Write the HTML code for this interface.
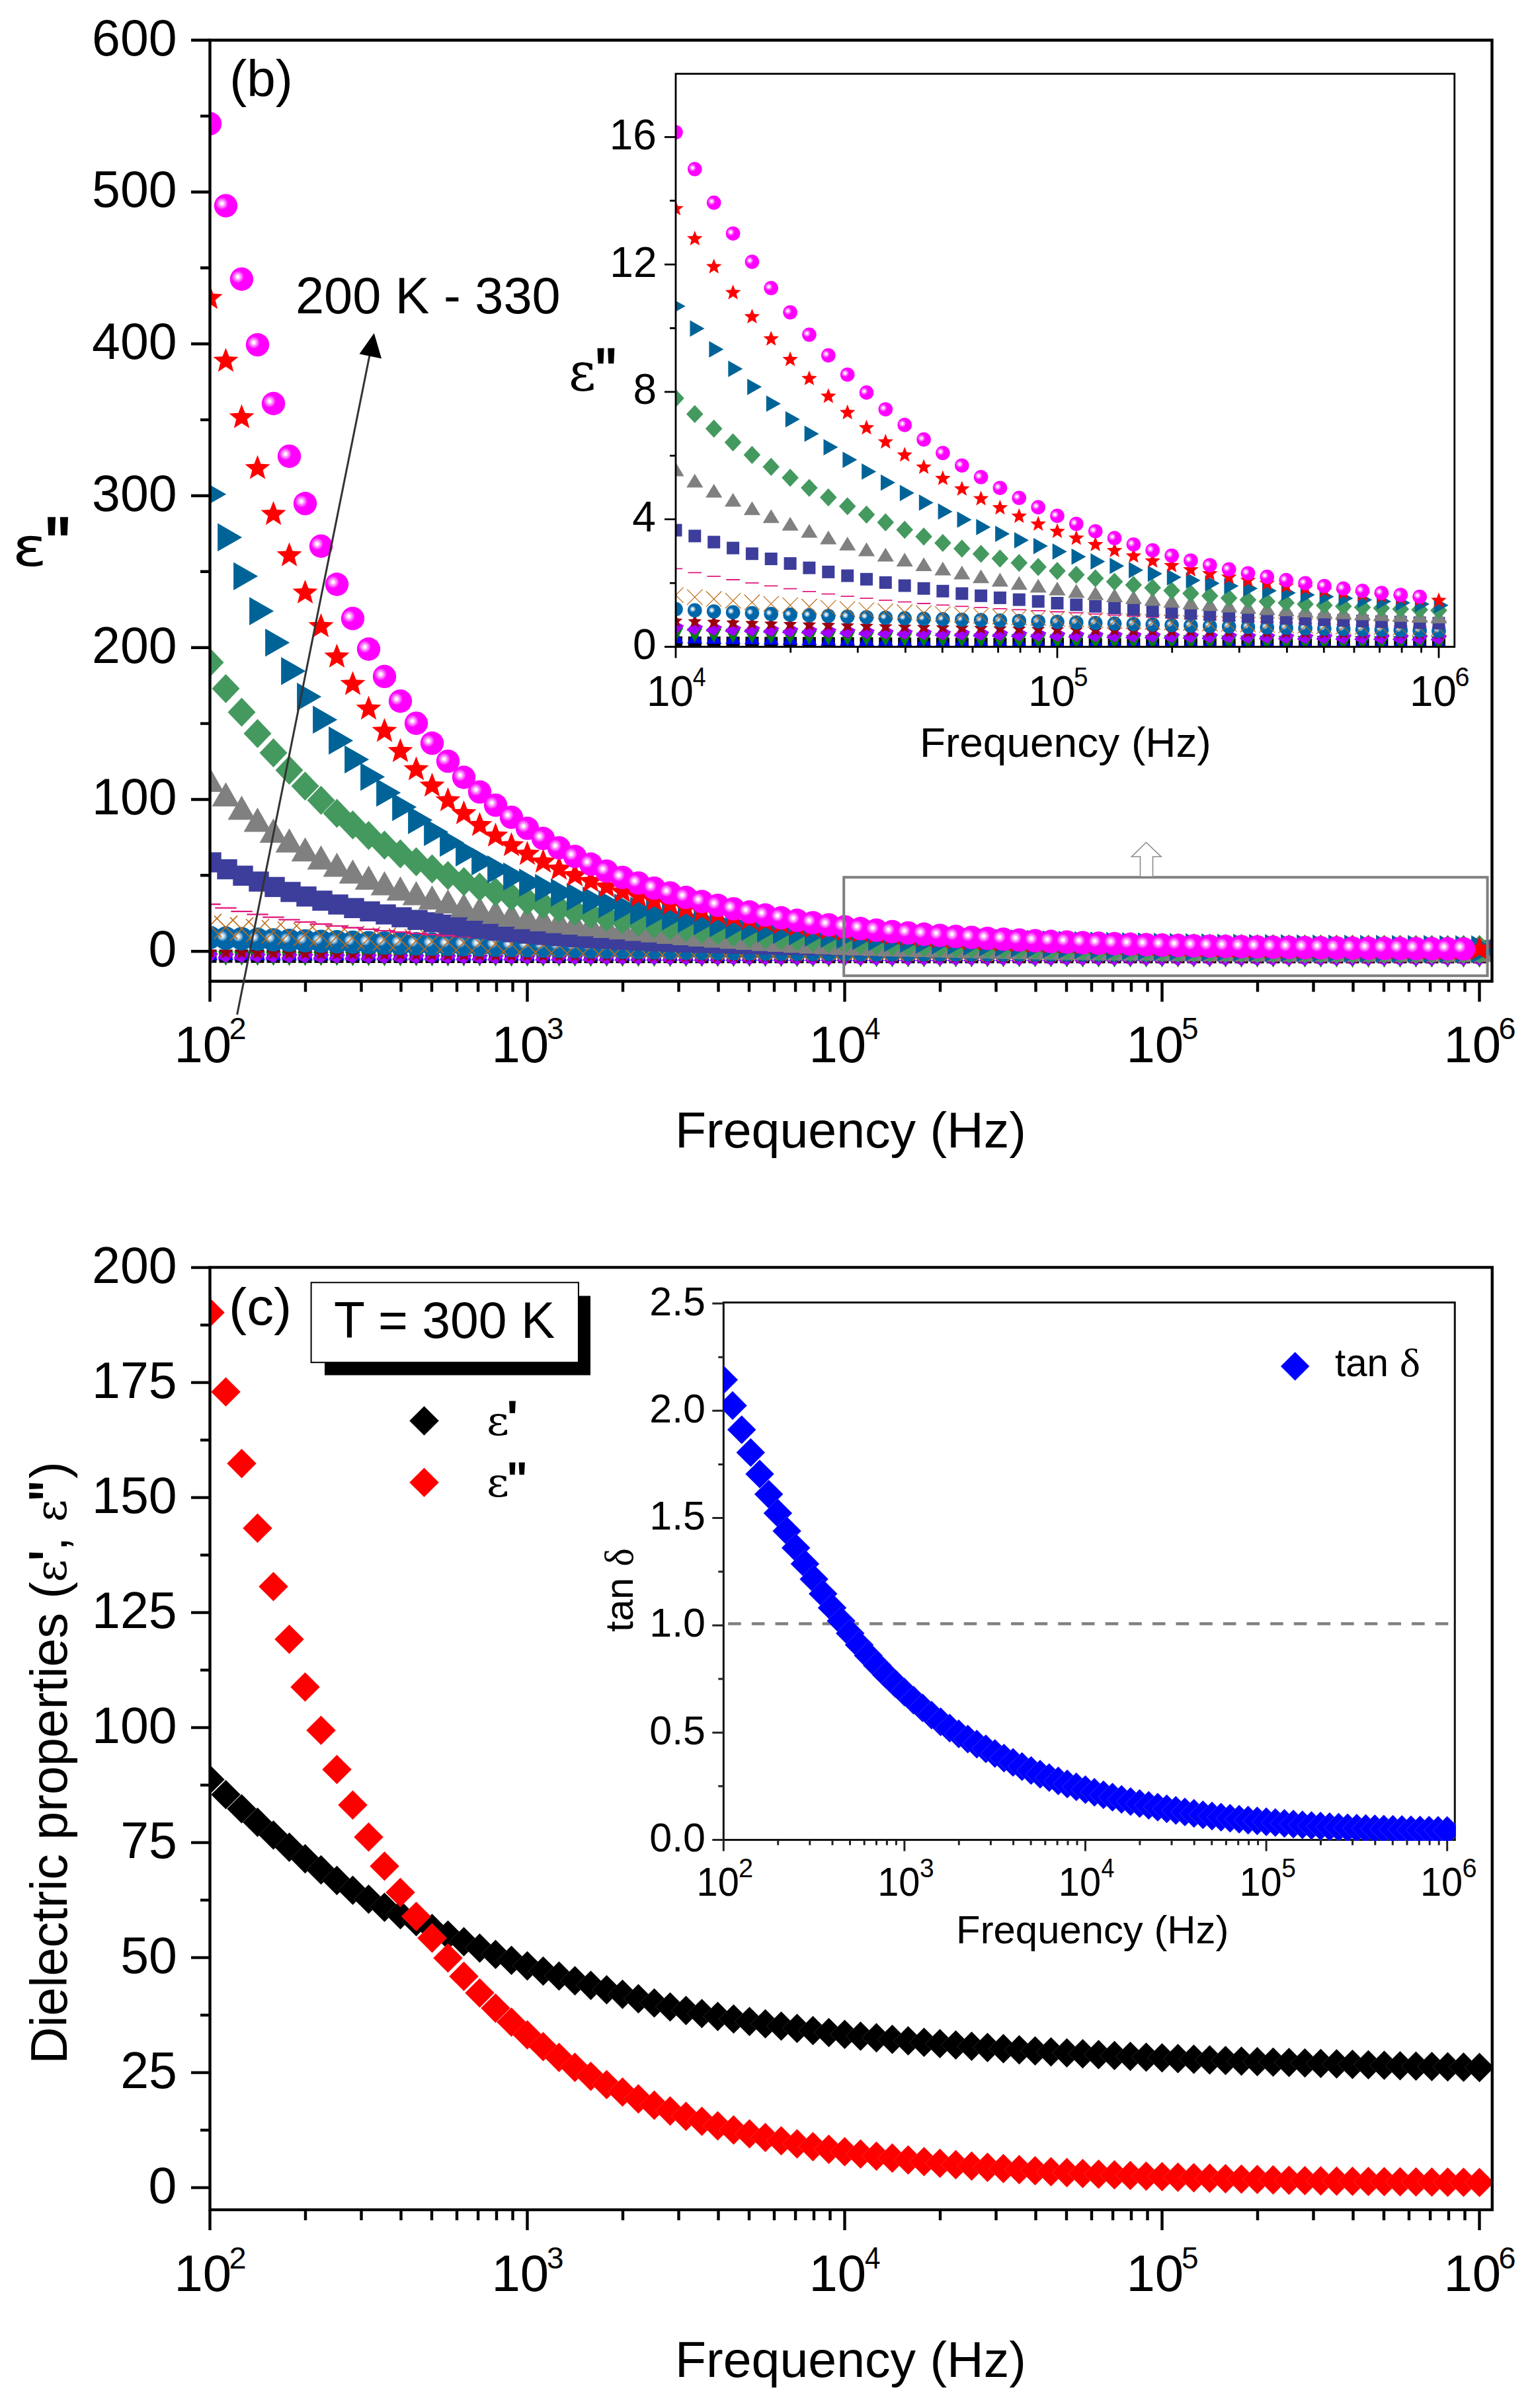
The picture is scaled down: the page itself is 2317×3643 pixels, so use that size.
<!DOCTYPE html>
<html lang="en"><head><meta charset="utf-8"><title>Dielectric properties: ε" vs frequency (b), T = 300 K (c)</title>
<style>html,body{margin:0;padding:0;background:#fff}svg{display:block}</style></head><body>
<svg width="2317" height="3643" viewBox="0 0 2317 3643">
<rect width="2317" height="3643" fill="#fff"/>
<defs>
<radialGradient id="gM" cx="0.335" cy="0.405" r="0.27"><stop offset="0" stop-color="#fff"/><stop offset="0.16" stop-color="#fff"/><stop offset="0.38" stop-color="#ffb4ff"/><stop offset="0.7" stop-color="#ff58ff"/><stop offset="1" stop-color="#f0f"/></radialGradient>
<radialGradient id="gB" cx="0.35" cy="0.41" r="0.23"><stop offset="0" stop-color="#fff"/><stop offset="0.18" stop-color="#eaf2f8"/><stop offset="0.5" stop-color="#a5c6e0"/><stop offset="0.8" stop-color="#4a8fc1"/><stop offset="1" stop-color="#0066aa"/></radialGradient>
<circle id="mag" r="17.7" fill="url(#gM)"/>
<polygon id="red" points="0.00,-20.00 5.05,-6.96 19.02,-6.18 8.18,2.66 11.76,16.18 0.00,8.60 -11.76,16.18 -8.18,2.66 -19.02,-6.18 -5.05,-6.96" fill="#f00"/>
<polygon id="btri" points="-12.4,-21.3 -12.4,21.3 24.7,0" fill="#006398"/>
<polygon id="gdia" points="0,-22 21,0 0,22 -21,0" fill="#44995f"/>
<polygon id="gray" points="0,-18.3 -20.9,18.3 20.9,18.3" fill="#808080"/>
<rect id="ind" x="-15.2" y="-15.2" width="30.4" height="30.4" fill="#3d3d9c"/>
<path id="pink" d="M-16.2,0H16.2" stroke="#e0187c" stroke-width="2.3" fill="none"/>
<path id="ora" d="M-17.5,-17.5L17.5,17.5M-17.5,17.5L17.5,-17.5" stroke="#bd6a17" stroke-width="1.6" fill="none"/>
<circle id="sph" r="17.7" fill="url(#gB)"/>
<circle id="mags" r="10.8" fill="url(#gM)"/>
<polygon id="reds" points="0.00,-12.40 3.13,-4.31 11.79,-3.83 5.07,1.65 7.29,10.03 0.00,5.33 -7.29,10.03 -5.07,1.65 -11.79,-3.83 -3.13,-4.31" fill="#f00"/>
<polygon id="btris" points="-7.3,-12.4 -7.3,12.4 14.7,0" fill="#006398"/>
<polygon id="gdias" points="0,-13.7 12.8,0 0,13.7 -12.8,0" fill="#44995f"/>
<polygon id="grays" points="0,-10.4 -12.6,10.4 12.6,10.4" fill="#808080"/>
<rect id="inds" x="-9.5" y="-9.5" width="19" height="19" fill="#3d3d9c"/>
<path id="pinks" d="M-10.2,0H10.2" stroke="#e0187c" stroke-width="1.8" fill="none"/>
<path id="oras" d="M-11.7,-11.7L11.7,11.7M-11.7,11.7L11.7,-11.7" stroke="#bd6a17" stroke-width="1.2" fill="none"/>
<circle id="sphs" r="10.8" fill="url(#gB)"/>
<polygon id="dred" points="0.00,-10.80 2.94,-4.05 10.27,-3.34 4.76,1.55 6.35,8.74 0.00,5.00 -6.35,8.74 -4.76,1.55 -10.27,-3.34 -2.94,-4.05" fill="#9c0010"/>
<polygon id="pur" points="-12.5,3 -1,-10.5 12.5,-3 1,10.5" fill="#a000ff"/>
<polygon id="dgrn" points="-11.5,-7.2 11.5,-7.2 0,14.4" fill="#008000"/>
<polygon id="blue" points="0,-14.4 -11.5,7.2 11.5,7.2" fill="#00f"/>
<rect id="blk" x="-10" y="-10" width="20" height="20" fill="#000"/>
<polygon id="dK" points="0,-22.3 22.3,0 0,22.3 -22.3,0" fill="#000" stroke="#fff" stroke-width="0.15"/>
<polygon id="dR" points="0,-22.3 22.3,0 0,22.3 -22.3,0" fill="#f00" stroke="#fff" stroke-width="0.15"/>
<polygon id="dB" points="0,-21.8 21.8,0 0,21.8 -21.8,0" fill="#00f" stroke="#fff" stroke-width="0.18"/>
<clipPath id="cB"><rect x="317.5" y="60.7" width="1939" height="1423.8"/></clipPath>
<clipPath id="cBi"><rect x="1022" y="111.7" width="1177.8" height="866.8"/></clipPath>
<clipPath id="cC"><rect x="317.5" y="1917.4" width="1939.3" height="1425.7"/></clipPath>
<clipPath id="cCi"><rect x="1094.3" y="1970.5" width="1107.5" height="814.5"/></clipPath>
</defs>
<g clip-path="url(#cB)">
<use href="#blk" x="317.5" y="1446.6"/>
<use href="#blk" x="341.5" y="1446.6"/>
<use href="#blk" x="365.5" y="1446.6"/>
<use href="#blk" x="389.5" y="1446.7"/>
<use href="#blk" x="413.5" y="1446.7"/>
<use href="#blk" x="437.5" y="1446.7"/>
<use href="#blk" x="461.5" y="1446.8"/>
<use href="#blk" x="485.5" y="1446.8"/>
<use href="#blk" x="509.5" y="1446.8"/>
<use href="#blk" x="533.5" y="1446.8"/>
<use href="#blk" x="557.5" y="1446.9"/>
<use href="#blk" x="581.5" y="1446.9"/>
<use href="#blk" x="605.5" y="1446.9"/>
<use href="#blk" x="629.5" y="1446.9"/>
<use href="#blk" x="653.5" y="1446.9"/>
<use href="#blk" x="677.5" y="1447"/>
<use href="#blk" x="701.5" y="1447"/>
<use href="#blk" x="725.5" y="1447"/>
<use href="#blk" x="749.5" y="1447"/>
<use href="#blk" x="773.5" y="1447"/>
<use href="#blk" x="797.5" y="1447"/>
<use href="#blk" x="821.5" y="1447.1"/>
<use href="#blk" x="845.5" y="1447.1"/>
<use href="#blk" x="869.5" y="1447.1"/>
<use href="#blk" x="893.5" y="1447.1"/>
<use href="#blk" x="917.5" y="1447.1"/>
<use href="#blk" x="941.5" y="1447.1"/>
<use href="#blk" x="965.5" y="1447.1"/>
<use href="#blk" x="989.5" y="1447.1"/>
<use href="#blk" x="1013.5" y="1447.1"/>
<use href="#blk" x="1037.5" y="1447.1"/>
<use href="#blk" x="1061.5" y="1447.2"/>
<use href="#blk" x="1085.5" y="1447.2"/>
<use href="#blk" x="1109.5" y="1447.2"/>
<use href="#blk" x="1133.5" y="1447.2"/>
<use href="#blk" x="1157.5" y="1447.2"/>
<use href="#blk" x="1181.5" y="1447.2"/>
<use href="#blk" x="1205.5" y="1447.2"/>
<use href="#blk" x="1229.5" y="1447.2"/>
<use href="#blk" x="1253.5" y="1447.2"/>
<use href="#blk" x="1277.5" y="1447.2"/>
<use href="#blk" x="1301.5" y="1447.2"/>
<use href="#blk" x="1325.5" y="1447.2"/>
<use href="#blk" x="1349.5" y="1447.2"/>
<use href="#blk" x="1373.5" y="1447.3"/>
<use href="#blk" x="1397.5" y="1447.3"/>
<use href="#blk" x="1421.5" y="1447.3"/>
<use href="#blk" x="1445.5" y="1447.3"/>
<use href="#blk" x="1469.5" y="1447.3"/>
<use href="#blk" x="1493.5" y="1447.3"/>
<use href="#blk" x="1517.5" y="1447.3"/>
<use href="#blk" x="1541.5" y="1447.3"/>
<use href="#blk" x="1565.5" y="1447.3"/>
<use href="#blk" x="1589.5" y="1447.3"/>
<use href="#blk" x="1613.5" y="1447.3"/>
<use href="#blk" x="1637.5" y="1447.3"/>
<use href="#blk" x="1661.5" y="1447.3"/>
<use href="#blk" x="1685.5" y="1447.3"/>
<use href="#blk" x="1709.5" y="1447.3"/>
<use href="#blk" x="1733.5" y="1447.3"/>
<use href="#blk" x="1757.5" y="1447.3"/>
<use href="#blk" x="1781.5" y="1447.3"/>
<use href="#blk" x="1805.5" y="1447.3"/>
<use href="#blk" x="1829.5" y="1447.3"/>
<use href="#blk" x="1853.5" y="1447.4"/>
<use href="#blk" x="1877.5" y="1447.4"/>
<use href="#blk" x="1901.5" y="1447.4"/>
<use href="#blk" x="1925.5" y="1447.4"/>
<use href="#blk" x="1949.5" y="1447.4"/>
<use href="#blk" x="1973.5" y="1447.4"/>
<use href="#blk" x="1997.5" y="1447.4"/>
<use href="#blk" x="2021.5" y="1447.4"/>
<use href="#blk" x="2045.5" y="1447.4"/>
<use href="#blk" x="2069.5" y="1447.4"/>
<use href="#blk" x="2093.5" y="1447.4"/>
<use href="#blk" x="2117.5" y="1447.4"/>
<use href="#blk" x="2141.5" y="1447.4"/>
<use href="#blk" x="2165.5" y="1447.4"/>
<use href="#blk" x="2189.5" y="1447.4"/>
<use href="#blk" x="2213.5" y="1447.4"/>
<use href="#blk" x="2237.5" y="1447.4"/>
<use href="#blue" x="317.5" y="1445.4"/>
<use href="#blue" x="341.5" y="1445.4"/>
<use href="#blue" x="365.5" y="1445.5"/>
<use href="#blue" x="389.5" y="1445.5"/>
<use href="#blue" x="413.5" y="1445.6"/>
<use href="#blue" x="437.5" y="1445.6"/>
<use href="#blue" x="461.5" y="1445.7"/>
<use href="#blue" x="485.5" y="1445.7"/>
<use href="#blue" x="509.5" y="1445.7"/>
<use href="#blue" x="533.5" y="1445.8"/>
<use href="#blue" x="557.5" y="1445.8"/>
<use href="#blue" x="581.5" y="1445.9"/>
<use href="#blue" x="605.5" y="1445.9"/>
<use href="#blue" x="629.5" y="1445.9"/>
<use href="#blue" x="653.5" y="1446"/>
<use href="#blue" x="677.5" y="1446"/>
<use href="#blue" x="701.5" y="1446"/>
<use href="#blue" x="725.5" y="1446.1"/>
<use href="#blue" x="749.5" y="1446.1"/>
<use href="#blue" x="773.5" y="1446.1"/>
<use href="#blue" x="797.5" y="1446.2"/>
<use href="#blue" x="821.5" y="1446.2"/>
<use href="#blue" x="845.5" y="1446.2"/>
<use href="#blue" x="869.5" y="1446.2"/>
<use href="#blue" x="893.5" y="1446.3"/>
<use href="#blue" x="917.5" y="1446.3"/>
<use href="#blue" x="941.5" y="1446.3"/>
<use href="#blue" x="965.5" y="1446.3"/>
<use href="#blue" x="989.5" y="1446.4"/>
<use href="#blue" x="1013.5" y="1446.4"/>
<use href="#blue" x="1037.5" y="1446.4"/>
<use href="#blue" x="1061.5" y="1446.4"/>
<use href="#blue" x="1085.5" y="1446.5"/>
<use href="#blue" x="1109.5" y="1446.5"/>
<use href="#blue" x="1133.5" y="1446.5"/>
<use href="#blue" x="1157.5" y="1446.5"/>
<use href="#blue" x="1181.5" y="1446.5"/>
<use href="#blue" x="1205.5" y="1446.5"/>
<use href="#blue" x="1229.5" y="1446.6"/>
<use href="#blue" x="1253.5" y="1446.6"/>
<use href="#blue" x="1277.5" y="1446.6"/>
<use href="#blue" x="1301.5" y="1446.6"/>
<use href="#blue" x="1325.5" y="1446.6"/>
<use href="#blue" x="1349.5" y="1446.7"/>
<use href="#blue" x="1373.5" y="1446.7"/>
<use href="#blue" x="1397.5" y="1446.7"/>
<use href="#blue" x="1421.5" y="1446.7"/>
<use href="#blue" x="1445.5" y="1446.7"/>
<use href="#blue" x="1469.5" y="1446.8"/>
<use href="#blue" x="1493.5" y="1446.8"/>
<use href="#blue" x="1517.5" y="1446.8"/>
<use href="#blue" x="1541.5" y="1446.8"/>
<use href="#blue" x="1565.5" y="1446.8"/>
<use href="#blue" x="1589.5" y="1446.8"/>
<use href="#blue" x="1613.5" y="1446.8"/>
<use href="#blue" x="1637.5" y="1446.9"/>
<use href="#blue" x="1661.5" y="1446.9"/>
<use href="#blue" x="1685.5" y="1446.9"/>
<use href="#blue" x="1709.5" y="1446.9"/>
<use href="#blue" x="1733.5" y="1446.9"/>
<use href="#blue" x="1757.5" y="1446.9"/>
<use href="#blue" x="1781.5" y="1446.9"/>
<use href="#blue" x="1805.5" y="1446.9"/>
<use href="#blue" x="1829.5" y="1446.9"/>
<use href="#blue" x="1853.5" y="1446.9"/>
<use href="#blue" x="1877.5" y="1446.9"/>
<use href="#blue" x="1901.5" y="1446.9"/>
<use href="#blue" x="1925.5" y="1446.9"/>
<use href="#blue" x="1949.5" y="1446.9"/>
<use href="#blue" x="1973.5" y="1446.9"/>
<use href="#blue" x="1997.5" y="1446.9"/>
<use href="#blue" x="2021.5" y="1447"/>
<use href="#blue" x="2045.5" y="1447"/>
<use href="#blue" x="2069.5" y="1447"/>
<use href="#blue" x="2093.5" y="1447"/>
<use href="#blue" x="2117.5" y="1447"/>
<use href="#blue" x="2141.5" y="1447"/>
<use href="#blue" x="2165.5" y="1447"/>
<use href="#blue" x="2189.5" y="1447"/>
<use href="#blue" x="2213.5" y="1447"/>
<use href="#blue" x="2237.5" y="1447"/>
<use href="#dgrn" x="317.5" y="1446.5"/>
<use href="#dgrn" x="341.5" y="1446.6"/>
<use href="#dgrn" x="365.5" y="1446.7"/>
<use href="#dgrn" x="389.5" y="1446.8"/>
<use href="#dgrn" x="413.5" y="1446.9"/>
<use href="#dgrn" x="437.5" y="1447"/>
<use href="#dgrn" x="461.5" y="1447.1"/>
<use href="#dgrn" x="485.5" y="1447.2"/>
<use href="#dgrn" x="509.5" y="1447.2"/>
<use href="#dgrn" x="533.5" y="1447.3"/>
<use href="#dgrn" x="557.5" y="1447.4"/>
<use href="#dgrn" x="581.5" y="1447.5"/>
<use href="#dgrn" x="605.5" y="1447.6"/>
<use href="#dgrn" x="629.5" y="1447.6"/>
<use href="#dgrn" x="653.5" y="1447.7"/>
<use href="#dgrn" x="677.5" y="1447.8"/>
<use href="#dgrn" x="701.5" y="1447.8"/>
<use href="#dgrn" x="725.5" y="1447.9"/>
<use href="#dgrn" x="749.5" y="1447.9"/>
<use href="#dgrn" x="773.5" y="1448"/>
<use href="#dgrn" x="797.5" y="1448.1"/>
<use href="#dgrn" x="821.5" y="1448.1"/>
<use href="#dgrn" x="845.5" y="1448.2"/>
<use href="#dgrn" x="869.5" y="1448.2"/>
<use href="#dgrn" x="893.5" y="1448.3"/>
<use href="#dgrn" x="917.5" y="1448.3"/>
<use href="#dgrn" x="941.5" y="1448.4"/>
<use href="#dgrn" x="965.5" y="1448.4"/>
<use href="#dgrn" x="989.5" y="1448.4"/>
<use href="#dgrn" x="1013.5" y="1448.5"/>
<use href="#dgrn" x="1037.5" y="1448.5"/>
<use href="#dgrn" x="1061.5" y="1448.6"/>
<use href="#dgrn" x="1085.5" y="1448.6"/>
<use href="#dgrn" x="1109.5" y="1448.6"/>
<use href="#dgrn" x="1133.5" y="1448.7"/>
<use href="#dgrn" x="1157.5" y="1448.7"/>
<use href="#dgrn" x="1181.5" y="1448.7"/>
<use href="#dgrn" x="1205.5" y="1448.8"/>
<use href="#dgrn" x="1229.5" y="1448.8"/>
<use href="#dgrn" x="1253.5" y="1448.8"/>
<use href="#dgrn" x="1277.5" y="1448.9"/>
<use href="#dgrn" x="1301.5" y="1448.9"/>
<use href="#dgrn" x="1325.5" y="1448.9"/>
<use href="#dgrn" x="1349.5" y="1449"/>
<use href="#dgrn" x="1373.5" y="1449"/>
<use href="#dgrn" x="1397.5" y="1449"/>
<use href="#dgrn" x="1421.5" y="1449.1"/>
<use href="#dgrn" x="1445.5" y="1449.1"/>
<use href="#dgrn" x="1469.5" y="1449.1"/>
<use href="#dgrn" x="1493.5" y="1449.1"/>
<use href="#dgrn" x="1517.5" y="1449.2"/>
<use href="#dgrn" x="1541.5" y="1449.2"/>
<use href="#dgrn" x="1565.5" y="1449.2"/>
<use href="#dgrn" x="1589.5" y="1449.2"/>
<use href="#dgrn" x="1613.5" y="1449.3"/>
<use href="#dgrn" x="1637.5" y="1449.3"/>
<use href="#dgrn" x="1661.5" y="1449.3"/>
<use href="#dgrn" x="1685.5" y="1449.3"/>
<use href="#dgrn" x="1709.5" y="1449.3"/>
<use href="#dgrn" x="1733.5" y="1449.3"/>
<use href="#dgrn" x="1757.5" y="1449.3"/>
<use href="#dgrn" x="1781.5" y="1449.4"/>
<use href="#dgrn" x="1805.5" y="1449.4"/>
<use href="#dgrn" x="1829.5" y="1449.4"/>
<use href="#dgrn" x="1853.5" y="1449.4"/>
<use href="#dgrn" x="1877.5" y="1449.4"/>
<use href="#dgrn" x="1901.5" y="1449.4"/>
<use href="#dgrn" x="1925.5" y="1449.4"/>
<use href="#dgrn" x="1949.5" y="1449.4"/>
<use href="#dgrn" x="1973.5" y="1449.4"/>
<use href="#dgrn" x="1997.5" y="1449.4"/>
<use href="#dgrn" x="2021.5" y="1449.4"/>
<use href="#dgrn" x="2045.5" y="1449.5"/>
<use href="#dgrn" x="2069.5" y="1449.5"/>
<use href="#dgrn" x="2093.5" y="1449.5"/>
<use href="#dgrn" x="2117.5" y="1449.5"/>
<use href="#dgrn" x="2141.5" y="1449.5"/>
<use href="#dgrn" x="2165.5" y="1449.5"/>
<use href="#dgrn" x="2189.5" y="1449.5"/>
<use href="#dgrn" x="2213.5" y="1449.5"/>
<use href="#dgrn" x="2237.5" y="1449.5"/>
<use href="#pur" x="317.5" y="1446"/>
<use href="#pur" x="341.5" y="1446.2"/>
<use href="#pur" x="365.5" y="1446.4"/>
<use href="#pur" x="389.5" y="1446.6"/>
<use href="#pur" x="413.5" y="1446.8"/>
<use href="#pur" x="437.5" y="1446.9"/>
<use href="#pur" x="461.5" y="1447.1"/>
<use href="#pur" x="485.5" y="1447.3"/>
<use href="#pur" x="509.5" y="1447.4"/>
<use href="#pur" x="533.5" y="1447.6"/>
<use href="#pur" x="557.5" y="1447.7"/>
<use href="#pur" x="581.5" y="1447.9"/>
<use href="#pur" x="605.5" y="1448"/>
<use href="#pur" x="629.5" y="1448.2"/>
<use href="#pur" x="653.5" y="1448.3"/>
<use href="#pur" x="677.5" y="1448.4"/>
<use href="#pur" x="701.5" y="1448.5"/>
<use href="#pur" x="725.5" y="1448.6"/>
<use href="#pur" x="749.5" y="1448.7"/>
<use href="#pur" x="773.5" y="1448.8"/>
<use href="#pur" x="797.5" y="1448.9"/>
<use href="#pur" x="821.5" y="1449"/>
<use href="#pur" x="845.5" y="1449.1"/>
<use href="#pur" x="869.5" y="1449.2"/>
<use href="#pur" x="893.5" y="1449.3"/>
<use href="#pur" x="917.5" y="1449.4"/>
<use href="#pur" x="941.5" y="1449.5"/>
<use href="#pur" x="965.5" y="1449.6"/>
<use href="#pur" x="989.5" y="1449.6"/>
<use href="#pur" x="1013.5" y="1449.7"/>
<use href="#pur" x="1037.5" y="1449.8"/>
<use href="#pur" x="1061.5" y="1449.9"/>
<use href="#pur" x="1085.5" y="1449.9"/>
<use href="#pur" x="1109.5" y="1450"/>
<use href="#pur" x="1133.5" y="1450"/>
<use href="#pur" x="1157.5" y="1450.1"/>
<use href="#pur" x="1181.5" y="1450.1"/>
<use href="#pur" x="1205.5" y="1450.2"/>
<use href="#pur" x="1229.5" y="1450.2"/>
<use href="#pur" x="1253.5" y="1450.3"/>
<use href="#pur" x="1277.5" y="1450.3"/>
<use href="#pur" x="1301.5" y="1450.4"/>
<use href="#pur" x="1325.5" y="1450.4"/>
<use href="#pur" x="1349.5" y="1450.4"/>
<use href="#pur" x="1373.5" y="1450.5"/>
<use href="#pur" x="1397.5" y="1450.5"/>
<use href="#pur" x="1421.5" y="1450.5"/>
<use href="#pur" x="1445.5" y="1450.6"/>
<use href="#pur" x="1469.5" y="1450.6"/>
<use href="#pur" x="1493.5" y="1450.6"/>
<use href="#pur" x="1517.5" y="1450.6"/>
<use href="#pur" x="1541.5" y="1450.7"/>
<use href="#pur" x="1565.5" y="1450.7"/>
<use href="#pur" x="1589.5" y="1450.7"/>
<use href="#pur" x="1613.5" y="1450.7"/>
<use href="#pur" x="1637.5" y="1450.8"/>
<use href="#pur" x="1661.5" y="1450.8"/>
<use href="#pur" x="1685.5" y="1450.8"/>
<use href="#pur" x="1709.5" y="1450.8"/>
<use href="#pur" x="1733.5" y="1450.8"/>
<use href="#pur" x="1757.5" y="1450.8"/>
<use href="#pur" x="1781.5" y="1450.9"/>
<use href="#pur" x="1805.5" y="1450.9"/>
<use href="#pur" x="1829.5" y="1450.9"/>
<use href="#pur" x="1853.5" y="1450.9"/>
<use href="#pur" x="1877.5" y="1450.9"/>
<use href="#pur" x="1901.5" y="1450.9"/>
<use href="#pur" x="1925.5" y="1450.9"/>
<use href="#pur" x="1949.5" y="1451"/>
<use href="#pur" x="1973.5" y="1451"/>
<use href="#pur" x="1997.5" y="1451"/>
<use href="#pur" x="2021.5" y="1451"/>
<use href="#pur" x="2045.5" y="1451"/>
<use href="#pur" x="2069.5" y="1451"/>
<use href="#pur" x="2093.5" y="1451"/>
<use href="#pur" x="2117.5" y="1451"/>
<use href="#pur" x="2141.5" y="1451"/>
<use href="#pur" x="2165.5" y="1451"/>
<use href="#pur" x="2189.5" y="1451"/>
<use href="#pur" x="2213.5" y="1451.1"/>
<use href="#pur" x="2237.5" y="1451.1"/>
<use href="#dred" x="317.5" y="1440.5"/>
<use href="#dred" x="341.5" y="1440.9"/>
<use href="#dred" x="365.5" y="1441.2"/>
<use href="#dred" x="389.5" y="1441.5"/>
<use href="#dred" x="413.5" y="1441.9"/>
<use href="#dred" x="437.5" y="1442.2"/>
<use href="#dred" x="461.5" y="1442.5"/>
<use href="#dred" x="485.5" y="1442.8"/>
<use href="#dred" x="509.5" y="1443"/>
<use href="#dred" x="533.5" y="1443.3"/>
<use href="#dred" x="557.5" y="1443.5"/>
<use href="#dred" x="581.5" y="1443.8"/>
<use href="#dred" x="605.5" y="1444"/>
<use href="#dred" x="629.5" y="1444.2"/>
<use href="#dred" x="653.5" y="1444.4"/>
<use href="#dred" x="677.5" y="1444.7"/>
<use href="#dred" x="701.5" y="1444.8"/>
<use href="#dred" x="725.5" y="1445"/>
<use href="#dred" x="749.5" y="1445.2"/>
<use href="#dred" x="773.5" y="1445.4"/>
<use href="#dred" x="797.5" y="1445.6"/>
<use href="#dred" x="821.5" y="1445.7"/>
<use href="#dred" x="845.5" y="1445.9"/>
<use href="#dred" x="869.5" y="1446"/>
<use href="#dred" x="893.5" y="1446.2"/>
<use href="#dred" x="917.5" y="1446.4"/>
<use href="#dred" x="941.5" y="1446.5"/>
<use href="#dred" x="965.5" y="1446.6"/>
<use href="#dred" x="989.5" y="1446.8"/>
<use href="#dred" x="1013.5" y="1446.9"/>
<use href="#dred" x="1037.5" y="1447"/>
<use href="#dred" x="1061.5" y="1447.1"/>
<use href="#dred" x="1085.5" y="1447.2"/>
<use href="#dred" x="1109.5" y="1447.3"/>
<use href="#dred" x="1133.5" y="1447.4"/>
<use href="#dred" x="1157.5" y="1447.5"/>
<use href="#dred" x="1181.5" y="1447.6"/>
<use href="#dred" x="1205.5" y="1447.7"/>
<use href="#dred" x="1229.5" y="1447.7"/>
<use href="#dred" x="1253.5" y="1447.8"/>
<use href="#dred" x="1277.5" y="1447.8"/>
<use href="#dred" x="1301.5" y="1447.9"/>
<use href="#dred" x="1325.5" y="1447.9"/>
<use href="#dred" x="1349.5" y="1448"/>
<use href="#dred" x="1373.5" y="1448"/>
<use href="#dred" x="1397.5" y="1448.1"/>
<use href="#dred" x="1421.5" y="1448.1"/>
<use href="#dred" x="1445.5" y="1448.1"/>
<use href="#dred" x="1469.5" y="1448.2"/>
<use href="#dred" x="1493.5" y="1448.2"/>
<use href="#dred" x="1517.5" y="1448.2"/>
<use href="#dred" x="1541.5" y="1448.2"/>
<use href="#dred" x="1565.5" y="1448.3"/>
<use href="#dred" x="1589.5" y="1448.3"/>
<use href="#dred" x="1613.5" y="1448.3"/>
<use href="#dred" x="1637.5" y="1448.3"/>
<use href="#dred" x="1661.5" y="1448.4"/>
<use href="#dred" x="1685.5" y="1448.4"/>
<use href="#dred" x="1709.5" y="1448.4"/>
<use href="#dred" x="1733.5" y="1448.4"/>
<use href="#dred" x="1757.5" y="1448.5"/>
<use href="#dred" x="1781.5" y="1448.5"/>
<use href="#dred" x="1805.5" y="1448.5"/>
<use href="#dred" x="1829.5" y="1448.5"/>
<use href="#dred" x="1853.5" y="1448.5"/>
<use href="#dred" x="1877.5" y="1448.6"/>
<use href="#dred" x="1901.5" y="1448.6"/>
<use href="#dred" x="1925.5" y="1448.6"/>
<use href="#dred" x="1949.5" y="1448.6"/>
<use href="#dred" x="1973.5" y="1448.6"/>
<use href="#dred" x="1997.5" y="1448.6"/>
<use href="#dred" x="2021.5" y="1448.7"/>
<use href="#dred" x="2045.5" y="1448.7"/>
<use href="#dred" x="2069.5" y="1448.7"/>
<use href="#dred" x="2093.5" y="1448.7"/>
<use href="#dred" x="2117.5" y="1448.7"/>
<use href="#dred" x="2141.5" y="1448.7"/>
<use href="#dred" x="2165.5" y="1448.7"/>
<use href="#dred" x="2189.5" y="1448.8"/>
<use href="#dred" x="2213.5" y="1448.8"/>
<use href="#dred" x="2237.5" y="1448.8"/>
<use href="#sph" x="317.5" y="1418.3"/>
<use href="#sph" x="341.5" y="1419.3"/>
<use href="#sph" x="365.5" y="1420.2"/>
<use href="#sph" x="389.5" y="1421"/>
<use href="#sph" x="413.5" y="1421.9"/>
<use href="#sph" x="437.5" y="1422.7"/>
<use href="#sph" x="461.5" y="1423.4"/>
<use href="#sph" x="485.5" y="1424.1"/>
<use href="#sph" x="509.5" y="1424.8"/>
<use href="#sph" x="533.5" y="1425.5"/>
<use href="#sph" x="557.5" y="1426.1"/>
<use href="#sph" x="581.5" y="1426.7"/>
<use href="#sph" x="605.5" y="1427.2"/>
<use href="#sph" x="629.5" y="1427.8"/>
<use href="#sph" x="653.5" y="1428.3"/>
<use href="#sph" x="677.5" y="1428.7"/>
<use href="#sph" x="701.5" y="1429.2"/>
<use href="#sph" x="725.5" y="1429.6"/>
<use href="#sph" x="749.5" y="1430.1"/>
<use href="#sph" x="773.5" y="1430.5"/>
<use href="#sph" x="797.5" y="1430.9"/>
<use href="#sph" x="821.5" y="1431.4"/>
<use href="#sph" x="845.5" y="1431.8"/>
<use href="#sph" x="869.5" y="1432.2"/>
<use href="#sph" x="893.5" y="1432.6"/>
<use href="#sph" x="917.5" y="1433"/>
<use href="#sph" x="941.5" y="1433.4"/>
<use href="#sph" x="965.5" y="1433.7"/>
<use href="#sph" x="989.5" y="1434"/>
<use href="#sph" x="1013.5" y="1434.3"/>
<use href="#sph" x="1037.5" y="1434.6"/>
<use href="#sph" x="1061.5" y="1434.9"/>
<use href="#sph" x="1085.5" y="1435.1"/>
<use href="#sph" x="1109.5" y="1435.3"/>
<use href="#sph" x="1133.5" y="1435.6"/>
<use href="#sph" x="1157.5" y="1435.8"/>
<use href="#sph" x="1181.5" y="1436"/>
<use href="#sph" x="1205.5" y="1436.1"/>
<use href="#sph" x="1229.5" y="1436.3"/>
<use href="#sph" x="1253.5" y="1436.4"/>
<use href="#sph" x="1277.5" y="1436.5"/>
<use href="#sph" x="1301.5" y="1436.6"/>
<use href="#sph" x="1325.5" y="1436.6"/>
<use href="#sph" x="1349.5" y="1436.7"/>
<use href="#sph" x="1373.5" y="1436.8"/>
<use href="#sph" x="1397.5" y="1436.8"/>
<use href="#sph" x="1421.5" y="1436.9"/>
<use href="#sph" x="1445.5" y="1436.9"/>
<use href="#sph" x="1469.5" y="1437"/>
<use href="#sph" x="1493.5" y="1437"/>
<use href="#sph" x="1517.5" y="1437.1"/>
<use href="#sph" x="1541.5" y="1437.1"/>
<use href="#sph" x="1565.5" y="1437.1"/>
<use href="#sph" x="1589.5" y="1437.2"/>
<use href="#sph" x="1613.5" y="1437.2"/>
<use href="#sph" x="1637.5" y="1437.2"/>
<use href="#sph" x="1661.5" y="1437.3"/>
<use href="#sph" x="1685.5" y="1437.3"/>
<use href="#sph" x="1709.5" y="1437.3"/>
<use href="#sph" x="1733.5" y="1437.4"/>
<use href="#sph" x="1757.5" y="1437.4"/>
<use href="#sph" x="1781.5" y="1437.4"/>
<use href="#sph" x="1805.5" y="1437.5"/>
<use href="#sph" x="1829.5" y="1437.5"/>
<use href="#sph" x="1853.5" y="1437.6"/>
<use href="#sph" x="1877.5" y="1437.6"/>
<use href="#sph" x="1901.5" y="1437.6"/>
<use href="#sph" x="1925.5" y="1437.7"/>
<use href="#sph" x="1949.5" y="1437.7"/>
<use href="#sph" x="1973.5" y="1437.7"/>
<use href="#sph" x="1997.5" y="1437.8"/>
<use href="#sph" x="2021.5" y="1437.8"/>
<use href="#sph" x="2045.5" y="1437.8"/>
<use href="#sph" x="2069.5" y="1437.9"/>
<use href="#sph" x="2093.5" y="1437.9"/>
<use href="#sph" x="2117.5" y="1437.9"/>
<use href="#sph" x="2141.5" y="1438"/>
<use href="#sph" x="2165.5" y="1438"/>
<use href="#sph" x="2189.5" y="1438"/>
<use href="#sph" x="2213.5" y="1438"/>
<use href="#sph" x="2237.5" y="1438.1"/>
<use href="#ora" x="317.5" y="1400.1"/>
<use href="#ora" x="341.5" y="1402.9"/>
<use href="#ora" x="365.5" y="1405.4"/>
<use href="#ora" x="389.5" y="1407.7"/>
<use href="#ora" x="413.5" y="1409.8"/>
<use href="#ora" x="437.5" y="1411.8"/>
<use href="#ora" x="461.5" y="1413.6"/>
<use href="#ora" x="485.5" y="1415.3"/>
<use href="#ora" x="509.5" y="1416.9"/>
<use href="#ora" x="533.5" y="1418.3"/>
<use href="#ora" x="557.5" y="1419.7"/>
<use href="#ora" x="581.5" y="1420.9"/>
<use href="#ora" x="605.5" y="1422.1"/>
<use href="#ora" x="629.5" y="1423.2"/>
<use href="#ora" x="653.5" y="1424.2"/>
<use href="#ora" x="677.5" y="1425.1"/>
<use href="#ora" x="701.5" y="1426"/>
<use href="#ora" x="725.5" y="1426.8"/>
<use href="#ora" x="749.5" y="1427.5"/>
<use href="#ora" x="773.5" y="1428.2"/>
<use href="#ora" x="797.5" y="1428.9"/>
<use href="#ora" x="821.5" y="1429.4"/>
<use href="#ora" x="845.5" y="1430"/>
<use href="#ora" x="869.5" y="1430.5"/>
<use href="#ora" x="893.5" y="1431"/>
<use href="#ora" x="917.5" y="1431.4"/>
<use href="#ora" x="941.5" y="1431.8"/>
<use href="#ora" x="965.5" y="1432.2"/>
<use href="#ora" x="989.5" y="1432.6"/>
<use href="#ora" x="1013.5" y="1432.9"/>
<use href="#ora" x="1037.5" y="1433.2"/>
<use href="#ora" x="1061.5" y="1433.5"/>
<use href="#ora" x="1085.5" y="1433.8"/>
<use href="#ora" x="1109.5" y="1434.1"/>
<use href="#ora" x="1133.5" y="1434.3"/>
<use href="#ora" x="1157.5" y="1434.5"/>
<use href="#ora" x="1181.5" y="1434.8"/>
<use href="#ora" x="1205.5" y="1435"/>
<use href="#ora" x="1229.5" y="1435.2"/>
<use href="#ora" x="1253.5" y="1435.3"/>
<use href="#ora" x="1277.5" y="1435.5"/>
<use href="#ora" x="1301.5" y="1435.6"/>
<use href="#ora" x="1325.5" y="1435.8"/>
<use href="#ora" x="1349.5" y="1435.9"/>
<use href="#ora" x="1373.5" y="1436"/>
<use href="#ora" x="1397.5" y="1436.1"/>
<use href="#ora" x="1421.5" y="1436.2"/>
<use href="#ora" x="1445.5" y="1436.3"/>
<use href="#ora" x="1469.5" y="1436.4"/>
<use href="#ora" x="1493.5" y="1436.5"/>
<use href="#ora" x="1517.5" y="1436.6"/>
<use href="#ora" x="1541.5" y="1436.6"/>
<use href="#ora" x="1565.5" y="1436.7"/>
<use href="#ora" x="1589.5" y="1436.8"/>
<use href="#ora" x="1613.5" y="1436.8"/>
<use href="#ora" x="1637.5" y="1436.9"/>
<use href="#ora" x="1661.5" y="1437"/>
<use href="#ora" x="1685.5" y="1437"/>
<use href="#ora" x="1709.5" y="1437.1"/>
<use href="#ora" x="1733.5" y="1437.1"/>
<use href="#ora" x="1757.5" y="1437.2"/>
<use href="#ora" x="1781.5" y="1437.2"/>
<use href="#ora" x="1805.5" y="1437.3"/>
<use href="#ora" x="1829.5" y="1437.3"/>
<use href="#ora" x="1853.5" y="1437.4"/>
<use href="#ora" x="1877.5" y="1437.4"/>
<use href="#ora" x="1901.5" y="1437.4"/>
<use href="#ora" x="1925.5" y="1437.5"/>
<use href="#ora" x="1949.5" y="1437.5"/>
<use href="#ora" x="1973.5" y="1437.6"/>
<use href="#ora" x="1997.5" y="1437.6"/>
<use href="#ora" x="2021.5" y="1437.6"/>
<use href="#ora" x="2045.5" y="1437.7"/>
<use href="#ora" x="2069.5" y="1437.7"/>
<use href="#ora" x="2093.5" y="1437.7"/>
<use href="#ora" x="2117.5" y="1437.7"/>
<use href="#ora" x="2141.5" y="1437.8"/>
<use href="#ora" x="2165.5" y="1437.8"/>
<use href="#ora" x="2189.5" y="1437.8"/>
<use href="#ora" x="2213.5" y="1437.8"/>
<use href="#ora" x="2237.5" y="1437.9"/>
<use href="#pink" x="317.5" y="1368"/>
<use href="#pink" x="341.5" y="1373.6"/>
<use href="#pink" x="365.5" y="1378.8"/>
<use href="#pink" x="389.5" y="1383.4"/>
<use href="#pink" x="413.5" y="1387.6"/>
<use href="#pink" x="437.5" y="1391.4"/>
<use href="#pink" x="461.5" y="1394.9"/>
<use href="#pink" x="485.5" y="1398"/>
<use href="#pink" x="509.5" y="1400.8"/>
<use href="#pink" x="533.5" y="1403.5"/>
<use href="#pink" x="557.5" y="1405.9"/>
<use href="#pink" x="581.5" y="1408.1"/>
<use href="#pink" x="605.5" y="1410.2"/>
<use href="#pink" x="629.5" y="1412.1"/>
<use href="#pink" x="653.5" y="1413.9"/>
<use href="#pink" x="677.5" y="1415.5"/>
<use href="#pink" x="701.5" y="1417"/>
<use href="#pink" x="725.5" y="1418.4"/>
<use href="#pink" x="749.5" y="1419.7"/>
<use href="#pink" x="773.5" y="1420.9"/>
<use href="#pink" x="797.5" y="1422"/>
<use href="#pink" x="821.5" y="1423"/>
<use href="#pink" x="845.5" y="1423.9"/>
<use href="#pink" x="869.5" y="1424.8"/>
<use href="#pink" x="893.5" y="1425.7"/>
<use href="#pink" x="917.5" y="1426.4"/>
<use href="#pink" x="941.5" y="1427.1"/>
<use href="#pink" x="965.5" y="1427.8"/>
<use href="#pink" x="989.5" y="1428.4"/>
<use href="#pink" x="1013.5" y="1429"/>
<use href="#pink" x="1037.5" y="1429.6"/>
<use href="#pink" x="1061.5" y="1430.1"/>
<use href="#pink" x="1085.5" y="1430.6"/>
<use href="#pink" x="1109.5" y="1431.1"/>
<use href="#pink" x="1133.5" y="1431.5"/>
<use href="#pink" x="1157.5" y="1431.9"/>
<use href="#pink" x="1181.5" y="1432.3"/>
<use href="#pink" x="1205.5" y="1432.6"/>
<use href="#pink" x="1229.5" y="1433"/>
<use href="#pink" x="1253.5" y="1433.3"/>
<use href="#pink" x="1277.5" y="1433.6"/>
<use href="#pink" x="1301.5" y="1433.9"/>
<use href="#pink" x="1325.5" y="1434.1"/>
<use href="#pink" x="1349.5" y="1434.4"/>
<use href="#pink" x="1373.5" y="1434.6"/>
<use href="#pink" x="1397.5" y="1434.8"/>
<use href="#pink" x="1421.5" y="1435"/>
<use href="#pink" x="1445.5" y="1435.2"/>
<use href="#pink" x="1469.5" y="1435.4"/>
<use href="#pink" x="1493.5" y="1435.6"/>
<use href="#pink" x="1517.5" y="1435.7"/>
<use href="#pink" x="1541.5" y="1435.8"/>
<use href="#pink" x="1565.5" y="1436"/>
<use href="#pink" x="1589.5" y="1436.1"/>
<use href="#pink" x="1613.5" y="1436.2"/>
<use href="#pink" x="1637.5" y="1436.3"/>
<use href="#pink" x="1661.5" y="1436.4"/>
<use href="#pink" x="1685.5" y="1436.4"/>
<use href="#pink" x="1709.5" y="1436.5"/>
<use href="#pink" x="1733.5" y="1436.6"/>
<use href="#pink" x="1757.5" y="1436.7"/>
<use href="#pink" x="1781.5" y="1436.8"/>
<use href="#pink" x="1805.5" y="1436.8"/>
<use href="#pink" x="1829.5" y="1436.9"/>
<use href="#pink" x="1853.5" y="1437"/>
<use href="#pink" x="1877.5" y="1437.1"/>
<use href="#pink" x="1901.5" y="1437.1"/>
<use href="#pink" x="1925.5" y="1437.2"/>
<use href="#pink" x="1949.5" y="1437.3"/>
<use href="#pink" x="1973.5" y="1437.3"/>
<use href="#pink" x="1997.5" y="1437.4"/>
<use href="#pink" x="2021.5" y="1437.4"/>
<use href="#pink" x="2045.5" y="1437.5"/>
<use href="#pink" x="2069.5" y="1437.5"/>
<use href="#pink" x="2093.5" y="1437.5"/>
<use href="#pink" x="2117.5" y="1437.6"/>
<use href="#pink" x="2141.5" y="1437.6"/>
<use href="#pink" x="2165.5" y="1437.7"/>
<use href="#pink" x="2189.5" y="1437.7"/>
<use href="#pink" x="2213.5" y="1437.7"/>
<use href="#pink" x="2237.5" y="1437.8"/>
<use href="#ind" x="319.5" y="1304.6"/>
<use href="#ind" x="343.5" y="1315.1"/>
<use href="#ind" x="367.5" y="1324.8"/>
<use href="#ind" x="391.5" y="1333.7"/>
<use href="#ind" x="415.5" y="1341.9"/>
<use href="#ind" x="439.5" y="1349.4"/>
<use href="#ind" x="463.5" y="1356.3"/>
<use href="#ind" x="487.5" y="1362.6"/>
<use href="#ind" x="511.5" y="1368.4"/>
<use href="#ind" x="535.5" y="1373.8"/>
<use href="#ind" x="559.5" y="1378.8"/>
<use href="#ind" x="583.5" y="1383.4"/>
<use href="#ind" x="607.5" y="1387.7"/>
<use href="#ind" x="631.5" y="1391.7"/>
<use href="#ind" x="655.5" y="1395.3"/>
<use href="#ind" x="679.5" y="1398.8"/>
<use href="#ind" x="703.5" y="1402"/>
<use href="#ind" x="727.5" y="1405"/>
<use href="#ind" x="751.5" y="1407.8"/>
<use href="#ind" x="775.5" y="1410.3"/>
<use href="#ind" x="799.5" y="1412.5"/>
<use href="#ind" x="823.5" y="1414.5"/>
<use href="#ind" x="847.5" y="1416.2"/>
<use href="#ind" x="871.5" y="1417.8"/>
<use href="#ind" x="895.5" y="1419.3"/>
<use href="#ind" x="919.5" y="1420.6"/>
<use href="#ind" x="943.5" y="1421.8"/>
<use href="#ind" x="967.5" y="1423"/>
<use href="#ind" x="991.5" y="1424.1"/>
<use href="#ind" x="1015.5" y="1425"/>
<use href="#ind" x="1039.5" y="1425.9"/>
<use href="#ind" x="1063.5" y="1426.6"/>
<use href="#ind" x="1087.5" y="1427.3"/>
<use href="#ind" x="1111.5" y="1427.8"/>
<use href="#ind" x="1135.5" y="1428.4"/>
<use href="#ind" x="1159.5" y="1428.9"/>
<use href="#ind" x="1183.5" y="1429.3"/>
<use href="#ind" x="1207.5" y="1429.7"/>
<use href="#ind" x="1231.5" y="1430"/>
<use href="#ind" x="1255.5" y="1430.4"/>
<use href="#ind" x="1279.5" y="1430.8"/>
<use href="#ind" x="1303.5" y="1431.2"/>
<use href="#ind" x="1327.5" y="1431.6"/>
<use href="#ind" x="1351.5" y="1432.1"/>
<use href="#ind" x="1375.5" y="1432.5"/>
<use href="#ind" x="1399.5" y="1432.9"/>
<use href="#ind" x="1423.5" y="1433.2"/>
<use href="#ind" x="1447.5" y="1433.5"/>
<use href="#ind" x="1471.5" y="1433.8"/>
<use href="#ind" x="1495.5" y="1434.1"/>
<use href="#ind" x="1519.5" y="1434.3"/>
<use href="#ind" x="1543.5" y="1434.6"/>
<use href="#ind" x="1567.5" y="1434.8"/>
<use href="#ind" x="1591.5" y="1435"/>
<use href="#ind" x="1615.5" y="1435.2"/>
<use href="#ind" x="1639.5" y="1435.4"/>
<use href="#ind" x="1663.5" y="1435.5"/>
<use href="#ind" x="1687.5" y="1435.7"/>
<use href="#ind" x="1711.5" y="1435.8"/>
<use href="#ind" x="1735.5" y="1435.9"/>
<use href="#ind" x="1759.5" y="1436.1"/>
<use href="#ind" x="1783.5" y="1436.2"/>
<use href="#ind" x="1807.5" y="1436.3"/>
<use href="#ind" x="1831.5" y="1436.4"/>
<use href="#ind" x="1855.5" y="1436.5"/>
<use href="#ind" x="1879.5" y="1436.6"/>
<use href="#ind" x="1903.5" y="1436.7"/>
<use href="#ind" x="1927.5" y="1436.8"/>
<use href="#ind" x="1951.5" y="1436.9"/>
<use href="#ind" x="1975.5" y="1436.9"/>
<use href="#ind" x="1999.5" y="1437"/>
<use href="#ind" x="2023.5" y="1437.1"/>
<use href="#ind" x="2047.5" y="1437.1"/>
<use href="#ind" x="2071.5" y="1437.2"/>
<use href="#ind" x="2095.5" y="1437.2"/>
<use href="#ind" x="2119.5" y="1437.3"/>
<use href="#ind" x="2143.5" y="1437.3"/>
<use href="#ind" x="2167.5" y="1437.4"/>
<use href="#ind" x="2191.5" y="1437.4"/>
<use href="#ind" x="2215.5" y="1437.5"/>
<use href="#ind" x="2239.5" y="1437.5"/>
<use href="#gray" x="317.5" y="1179.6"/>
<use href="#gray" x="341.5" y="1201.8"/>
<use href="#gray" x="365.5" y="1222"/>
<use href="#gray" x="389.5" y="1240.1"/>
<use href="#gray" x="413.5" y="1256.6"/>
<use href="#gray" x="437.5" y="1271.5"/>
<use href="#gray" x="461.5" y="1285"/>
<use href="#gray" x="485.5" y="1297.2"/>
<use href="#gray" x="509.5" y="1308.3"/>
<use href="#gray" x="533.5" y="1318.5"/>
<use href="#gray" x="557.5" y="1327.8"/>
<use href="#gray" x="581.5" y="1336.3"/>
<use href="#gray" x="605.5" y="1344.1"/>
<use href="#gray" x="629.5" y="1351.2"/>
<use href="#gray" x="653.5" y="1357.8"/>
<use href="#gray" x="677.5" y="1363.8"/>
<use href="#gray" x="701.5" y="1369.5"/>
<use href="#gray" x="725.5" y="1374.7"/>
<use href="#gray" x="749.5" y="1379.5"/>
<use href="#gray" x="773.5" y="1383.8"/>
<use href="#gray" x="797.5" y="1387.5"/>
<use href="#gray" x="821.5" y="1390.6"/>
<use href="#gray" x="845.5" y="1393.4"/>
<use href="#gray" x="869.5" y="1395.8"/>
<use href="#gray" x="893.5" y="1398.2"/>
<use href="#gray" x="917.5" y="1400.6"/>
<use href="#gray" x="941.5" y="1403"/>
<use href="#gray" x="965.5" y="1405.3"/>
<use href="#gray" x="989.5" y="1407.5"/>
<use href="#gray" x="1013.5" y="1409.6"/>
<use href="#gray" x="1037.5" y="1411.6"/>
<use href="#gray" x="1061.5" y="1413.6"/>
<use href="#gray" x="1085.5" y="1415.4"/>
<use href="#gray" x="1109.5" y="1417.2"/>
<use href="#gray" x="1133.5" y="1418.8"/>
<use href="#gray" x="1157.5" y="1420.4"/>
<use href="#gray" x="1181.5" y="1421.8"/>
<use href="#gray" x="1205.5" y="1423.1"/>
<use href="#gray" x="1229.5" y="1424.4"/>
<use href="#gray" x="1253.5" y="1425.5"/>
<use href="#gray" x="1277.5" y="1426.4"/>
<use href="#gray" x="1301.5" y="1427.2"/>
<use href="#gray" x="1325.5" y="1427.9"/>
<use href="#gray" x="1349.5" y="1428.6"/>
<use href="#gray" x="1373.5" y="1429.2"/>
<use href="#gray" x="1397.5" y="1429.8"/>
<use href="#gray" x="1421.5" y="1430.3"/>
<use href="#gray" x="1445.5" y="1430.8"/>
<use href="#gray" x="1469.5" y="1431.3"/>
<use href="#gray" x="1493.5" y="1431.8"/>
<use href="#gray" x="1517.5" y="1432.2"/>
<use href="#gray" x="1541.5" y="1432.6"/>
<use href="#gray" x="1565.5" y="1432.9"/>
<use href="#gray" x="1589.5" y="1433.2"/>
<use href="#gray" x="1613.5" y="1433.6"/>
<use href="#gray" x="1637.5" y="1433.8"/>
<use href="#gray" x="1661.5" y="1434.1"/>
<use href="#gray" x="1685.5" y="1434.4"/>
<use href="#gray" x="1709.5" y="1434.6"/>
<use href="#gray" x="1733.5" y="1434.8"/>
<use href="#gray" x="1757.5" y="1435"/>
<use href="#gray" x="1781.5" y="1435.2"/>
<use href="#gray" x="1805.5" y="1435.3"/>
<use href="#gray" x="1829.5" y="1435.5"/>
<use href="#gray" x="1853.5" y="1435.6"/>
<use href="#gray" x="1877.5" y="1435.8"/>
<use href="#gray" x="1901.5" y="1435.9"/>
<use href="#gray" x="1925.5" y="1436"/>
<use href="#gray" x="1949.5" y="1436.1"/>
<use href="#gray" x="1973.5" y="1436.2"/>
<use href="#gray" x="1997.5" y="1436.3"/>
<use href="#gray" x="2021.5" y="1436.4"/>
<use href="#gray" x="2045.5" y="1436.5"/>
<use href="#gray" x="2069.5" y="1436.6"/>
<use href="#gray" x="2093.5" y="1436.6"/>
<use href="#gray" x="2117.5" y="1436.7"/>
<use href="#gray" x="2141.5" y="1436.8"/>
<use href="#gray" x="2165.5" y="1436.8"/>
<use href="#gray" x="2189.5" y="1436.9"/>
<use href="#gray" x="2213.5" y="1437"/>
<use href="#gray" x="2237.5" y="1437"/>
<use href="#gdia" x="317.5" y="1002.2"/>
<use href="#gdia" x="341.5" y="1041.8"/>
<use href="#gdia" x="365.5" y="1077.6"/>
<use href="#gdia" x="389.5" y="1109.8"/>
<use href="#gdia" x="413.5" y="1139"/>
<use href="#gdia" x="437.5" y="1165.3"/>
<use href="#gdia" x="461.5" y="1189.2"/>
<use href="#gdia" x="485.5" y="1210.8"/>
<use href="#gdia" x="509.5" y="1230.4"/>
<use href="#gdia" x="533.5" y="1248.1"/>
<use href="#gdia" x="557.5" y="1264.1"/>
<use href="#gdia" x="581.5" y="1278.6"/>
<use href="#gdia" x="605.5" y="1291.8"/>
<use href="#gdia" x="629.5" y="1303.7"/>
<use href="#gdia" x="653.5" y="1314.6"/>
<use href="#gdia" x="677.5" y="1324.6"/>
<use href="#gdia" x="701.5" y="1333.7"/>
<use href="#gdia" x="725.5" y="1342"/>
<use href="#gdia" x="749.5" y="1349.6"/>
<use href="#gdia" x="773.5" y="1356.5"/>
<use href="#gdia" x="797.5" y="1362.9"/>
<use href="#gdia" x="821.5" y="1368.8"/>
<use href="#gdia" x="845.5" y="1374.2"/>
<use href="#gdia" x="869.5" y="1379.1"/>
<use href="#gdia" x="893.5" y="1383.6"/>
<use href="#gdia" x="917.5" y="1387.7"/>
<use href="#gdia" x="941.5" y="1391.5"/>
<use href="#gdia" x="965.5" y="1394.9"/>
<use href="#gdia" x="989.5" y="1398"/>
<use href="#gdia" x="1013.5" y="1400.9"/>
<use href="#gdia" x="1037.5" y="1403.6"/>
<use href="#gdia" x="1061.5" y="1406.1"/>
<use href="#gdia" x="1085.5" y="1408.3"/>
<use href="#gdia" x="1109.5" y="1410.4"/>
<use href="#gdia" x="1133.5" y="1412.4"/>
<use href="#gdia" x="1157.5" y="1414.2"/>
<use href="#gdia" x="1181.5" y="1415.8"/>
<use href="#gdia" x="1205.5" y="1417.3"/>
<use href="#gdia" x="1229.5" y="1418.7"/>
<use href="#gdia" x="1253.5" y="1420.1"/>
<use href="#gdia" x="1277.5" y="1421.3"/>
<use href="#gdia" x="1301.5" y="1422.4"/>
<use href="#gdia" x="1325.5" y="1423.5"/>
<use href="#gdia" x="1349.5" y="1424.5"/>
<use href="#gdia" x="1373.5" y="1425.4"/>
<use href="#gdia" x="1397.5" y="1426.2"/>
<use href="#gdia" x="1421.5" y="1427"/>
<use href="#gdia" x="1445.5" y="1427.7"/>
<use href="#gdia" x="1469.5" y="1428.4"/>
<use href="#gdia" x="1493.5" y="1429.1"/>
<use href="#gdia" x="1517.5" y="1429.7"/>
<use href="#gdia" x="1541.5" y="1430.2"/>
<use href="#gdia" x="1565.5" y="1430.8"/>
<use href="#gdia" x="1589.5" y="1431.3"/>
<use href="#gdia" x="1613.5" y="1431.7"/>
<use href="#gdia" x="1637.5" y="1432.1"/>
<use href="#gdia" x="1661.5" y="1432.5"/>
<use href="#gdia" x="1685.5" y="1432.8"/>
<use href="#gdia" x="1709.5" y="1433.2"/>
<use href="#gdia" x="1733.5" y="1433.4"/>
<use href="#gdia" x="1757.5" y="1433.7"/>
<use href="#gdia" x="1781.5" y="1434"/>
<use href="#gdia" x="1805.5" y="1434.3"/>
<use href="#gdia" x="1829.5" y="1434.5"/>
<use href="#gdia" x="1853.5" y="1434.7"/>
<use href="#gdia" x="1877.5" y="1434.9"/>
<use href="#gdia" x="1901.5" y="1435.2"/>
<use href="#gdia" x="1925.5" y="1435.3"/>
<use href="#gdia" x="1949.5" y="1435.5"/>
<use href="#gdia" x="1973.5" y="1435.7"/>
<use href="#gdia" x="1997.5" y="1435.8"/>
<use href="#gdia" x="2021.5" y="1435.9"/>
<use href="#gdia" x="2045.5" y="1436"/>
<use href="#gdia" x="2069.5" y="1436.1"/>
<use href="#gdia" x="2093.5" y="1436.2"/>
<use href="#gdia" x="2117.5" y="1436.3"/>
<use href="#gdia" x="2141.5" y="1436.4"/>
<use href="#gdia" x="2165.5" y="1436.4"/>
<use href="#gdia" x="2189.5" y="1436.5"/>
<use href="#gdia" x="2213.5" y="1436.5"/>
<use href="#gdia" x="2237.5" y="1436.6"/>
<use href="#btri" x="317.5" y="747.7"/>
<use href="#btri" x="341.5" y="812.9"/>
<use href="#btri" x="365.5" y="871.7"/>
<use href="#btri" x="389.5" y="924.6"/>
<use href="#btri" x="413.5" y="972.3"/>
<use href="#btri" x="437.5" y="1015.3"/>
<use href="#btri" x="461.5" y="1054"/>
<use href="#btri" x="485.5" y="1088.8"/>
<use href="#btri" x="509.5" y="1120.4"/>
<use href="#btri" x="533.5" y="1149"/>
<use href="#btri" x="557.5" y="1175.2"/>
<use href="#btri" x="581.5" y="1199.2"/>
<use href="#btri" x="605.5" y="1221"/>
<use href="#btri" x="629.5" y="1240.8"/>
<use href="#btri" x="653.5" y="1258.8"/>
<use href="#btri" x="677.5" y="1274.9"/>
<use href="#btri" x="701.5" y="1289.7"/>
<use href="#btri" x="725.5" y="1303.2"/>
<use href="#btri" x="749.5" y="1315.3"/>
<use href="#btri" x="773.5" y="1326.1"/>
<use href="#btri" x="797.5" y="1335.4"/>
<use href="#btri" x="821.5" y="1343.4"/>
<use href="#btri" x="845.5" y="1350.4"/>
<use href="#btri" x="869.5" y="1356.7"/>
<use href="#btri" x="893.5" y="1362.5"/>
<use href="#btri" x="917.5" y="1368"/>
<use href="#btri" x="941.5" y="1373.2"/>
<use href="#btri" x="965.5" y="1378"/>
<use href="#btri" x="989.5" y="1382.4"/>
<use href="#btri" x="1013.5" y="1386.5"/>
<use href="#btri" x="1037.5" y="1390.3"/>
<use href="#btri" x="1061.5" y="1393.7"/>
<use href="#btri" x="1085.5" y="1396.8"/>
<use href="#btri" x="1109.5" y="1399.6"/>
<use href="#btri" x="1133.5" y="1402.3"/>
<use href="#btri" x="1157.5" y="1404.7"/>
<use href="#btri" x="1181.5" y="1407"/>
<use href="#btri" x="1205.5" y="1409.1"/>
<use href="#btri" x="1229.5" y="1411.1"/>
<use href="#btri" x="1253.5" y="1412.9"/>
<use href="#btri" x="1277.5" y="1414.6"/>
<use href="#btri" x="1301.5" y="1416.2"/>
<use href="#btri" x="1325.5" y="1417.8"/>
<use href="#btri" x="1349.5" y="1419.2"/>
<use href="#btri" x="1373.5" y="1420.5"/>
<use href="#btri" x="1397.5" y="1421.7"/>
<use href="#btri" x="1421.5" y="1422.8"/>
<use href="#btri" x="1445.5" y="1423.8"/>
<use href="#btri" x="1469.5" y="1424.8"/>
<use href="#btri" x="1493.5" y="1425.7"/>
<use href="#btri" x="1517.5" y="1426.6"/>
<use href="#btri" x="1541.5" y="1427.4"/>
<use href="#btri" x="1565.5" y="1428.1"/>
<use href="#btri" x="1589.5" y="1428.8"/>
<use href="#btri" x="1613.5" y="1429.4"/>
<use href="#btri" x="1637.5" y="1430"/>
<use href="#btri" x="1661.5" y="1430.6"/>
<use href="#btri" x="1685.5" y="1431.1"/>
<use href="#btri" x="1709.5" y="1431.5"/>
<use href="#btri" x="1733.5" y="1431.9"/>
<use href="#btri" x="1757.5" y="1432.3"/>
<use href="#btri" x="1781.5" y="1432.7"/>
<use href="#btri" x="1805.5" y="1433"/>
<use href="#btri" x="1829.5" y="1433.4"/>
<use href="#btri" x="1853.5" y="1433.7"/>
<use href="#btri" x="1877.5" y="1433.9"/>
<use href="#btri" x="1901.5" y="1434.2"/>
<use href="#btri" x="1925.5" y="1434.4"/>
<use href="#btri" x="1949.5" y="1434.6"/>
<use href="#btri" x="1973.5" y="1434.8"/>
<use href="#btri" x="1997.5" y="1435"/>
<use href="#btri" x="2021.5" y="1435.2"/>
<use href="#btri" x="2045.5" y="1435.3"/>
<use href="#btri" x="2069.5" y="1435.5"/>
<use href="#btri" x="2093.5" y="1435.6"/>
<use href="#btri" x="2117.5" y="1435.7"/>
<use href="#btri" x="2141.5" y="1435.8"/>
<use href="#btri" x="2165.5" y="1435.9"/>
<use href="#btri" x="2189.5" y="1436"/>
<use href="#btri" x="2213.5" y="1436.1"/>
<use href="#btri" x="2237.5" y="1436.2"/>
<use href="#red" x="317.5" y="451.3"/>
<use href="#red" x="341.5" y="546.2"/>
<use href="#red" x="365.5" y="631.6"/>
<use href="#red" x="389.5" y="708.6"/>
<use href="#red" x="413.5" y="778"/>
<use href="#red" x="437.5" y="840.5"/>
<use href="#red" x="461.5" y="896.9"/>
<use href="#red" x="485.5" y="947.8"/>
<use href="#red" x="509.5" y="993.8"/>
<use href="#red" x="533.5" y="1035.2"/>
<use href="#red" x="557.5" y="1072.5"/>
<use href="#red" x="581.5" y="1106.2"/>
<use href="#red" x="605.5" y="1136.8"/>
<use href="#red" x="629.5" y="1164.3"/>
<use href="#red" x="653.5" y="1189"/>
<use href="#red" x="677.5" y="1211.1"/>
<use href="#red" x="701.5" y="1230.8"/>
<use href="#red" x="725.5" y="1248.6"/>
<use href="#red" x="749.5" y="1264.6"/>
<use href="#red" x="773.5" y="1279.1"/>
<use href="#red" x="797.5" y="1292.2"/>
<use href="#red" x="821.5" y="1304"/>
<use href="#red" x="845.5" y="1314.7"/>
<use href="#red" x="869.5" y="1324.5"/>
<use href="#red" x="893.5" y="1333.4"/>
<use href="#red" x="917.5" y="1341.6"/>
<use href="#red" x="941.5" y="1349.1"/>
<use href="#red" x="965.5" y="1356"/>
<use href="#red" x="989.5" y="1362.4"/>
<use href="#red" x="1013.5" y="1368.2"/>
<use href="#red" x="1037.5" y="1373.5"/>
<use href="#red" x="1061.5" y="1378.3"/>
<use href="#red" x="1085.5" y="1382.7"/>
<use href="#red" x="1109.5" y="1386.8"/>
<use href="#red" x="1133.5" y="1390.5"/>
<use href="#red" x="1157.5" y="1393.9"/>
<use href="#red" x="1181.5" y="1397.1"/>
<use href="#red" x="1205.5" y="1400.1"/>
<use href="#red" x="1229.5" y="1402.8"/>
<use href="#red" x="1253.5" y="1405.3"/>
<use href="#red" x="1277.5" y="1407.6"/>
<use href="#red" x="1301.5" y="1409.8"/>
<use href="#red" x="1325.5" y="1411.8"/>
<use href="#red" x="1349.5" y="1413.7"/>
<use href="#red" x="1373.5" y="1415.4"/>
<use href="#red" x="1397.5" y="1417"/>
<use href="#red" x="1421.5" y="1418.5"/>
<use href="#red" x="1445.5" y="1419.9"/>
<use href="#red" x="1469.5" y="1421.1"/>
<use href="#red" x="1493.5" y="1422.3"/>
<use href="#red" x="1517.5" y="1423.4"/>
<use href="#red" x="1541.5" y="1424.4"/>
<use href="#red" x="1565.5" y="1425.4"/>
<use href="#red" x="1589.5" y="1426.3"/>
<use href="#red" x="1613.5" y="1427.1"/>
<use href="#red" x="1637.5" y="1427.8"/>
<use href="#red" x="1661.5" y="1428.5"/>
<use href="#red" x="1685.5" y="1429.2"/>
<use href="#red" x="1709.5" y="1429.8"/>
<use href="#red" x="1733.5" y="1430.4"/>
<use href="#red" x="1757.5" y="1430.9"/>
<use href="#red" x="1781.5" y="1431.4"/>
<use href="#red" x="1805.5" y="1431.8"/>
<use href="#red" x="1829.5" y="1432.3"/>
<use href="#red" x="1853.5" y="1432.7"/>
<use href="#red" x="1877.5" y="1433"/>
<use href="#red" x="1901.5" y="1433.3"/>
<use href="#red" x="1925.5" y="1433.7"/>
<use href="#red" x="1949.5" y="1433.9"/>
<use href="#red" x="1973.5" y="1434.2"/>
<use href="#red" x="1997.5" y="1434.4"/>
<use href="#red" x="2021.5" y="1434.6"/>
<use href="#red" x="2045.5" y="1434.8"/>
<use href="#red" x="2069.5" y="1435"/>
<use href="#red" x="2093.5" y="1435.1"/>
<use href="#red" x="2117.5" y="1435.3"/>
<use href="#red" x="2141.5" y="1435.4"/>
<use href="#red" x="2165.5" y="1435.6"/>
<use href="#red" x="2189.5" y="1435.7"/>
<use href="#red" x="2213.5" y="1435.8"/>
<use href="#red" x="2237.5" y="1435.9"/>
<use href="#mag" x="317.5" y="187.1"/>
<use href="#mag" x="341.5" y="311.2"/>
<use href="#mag" x="365.5" y="422.2"/>
<use href="#mag" x="389.5" y="521.6"/>
<use href="#mag" x="413.5" y="610.5"/>
<use href="#mag" x="437.5" y="690.2"/>
<use href="#mag" x="461.5" y="761.8"/>
<use href="#mag" x="485.5" y="826.2"/>
<use href="#mag" x="509.5" y="884"/>
<use href="#mag" x="533.5" y="935.7"/>
<use href="#mag" x="557.5" y="982"/>
<use href="#mag" x="581.5" y="1023.4"/>
<use href="#mag" x="605.5" y="1060.7"/>
<use href="#mag" x="629.5" y="1094.2"/>
<use href="#mag" x="653.5" y="1124.3"/>
<use href="#mag" x="677.5" y="1151.6"/>
<use href="#mag" x="701.5" y="1176"/>
<use href="#mag" x="725.5" y="1198.1"/>
<use href="#mag" x="749.5" y="1218.1"/>
<use href="#mag" x="773.5" y="1236.4"/>
<use href="#mag" x="797.5" y="1253.1"/>
<use href="#mag" x="821.5" y="1268.5"/>
<use href="#mag" x="845.5" y="1282.7"/>
<use href="#mag" x="869.5" y="1295.6"/>
<use href="#mag" x="893.5" y="1307.3"/>
<use href="#mag" x="917.5" y="1317.9"/>
<use href="#mag" x="941.5" y="1327.4"/>
<use href="#mag" x="965.5" y="1335.9"/>
<use href="#mag" x="989.5" y="1343.7"/>
<use href="#mag" x="1013.5" y="1350.9"/>
<use href="#mag" x="1037.5" y="1357.6"/>
<use href="#mag" x="1061.5" y="1363.9"/>
<use href="#mag" x="1085.5" y="1369.6"/>
<use href="#mag" x="1109.5" y="1374.9"/>
<use href="#mag" x="1133.5" y="1379.8"/>
<use href="#mag" x="1157.5" y="1384.3"/>
<use href="#mag" x="1181.5" y="1388.5"/>
<use href="#mag" x="1205.5" y="1392.3"/>
<use href="#mag" x="1229.5" y="1395.9"/>
<use href="#mag" x="1253.5" y="1399.2"/>
<use href="#mag" x="1277.5" y="1402.1"/>
<use href="#mag" x="1301.5" y="1404.8"/>
<use href="#mag" x="1325.5" y="1407.2"/>
<use href="#mag" x="1349.5" y="1409.4"/>
<use href="#mag" x="1373.5" y="1411.4"/>
<use href="#mag" x="1397.5" y="1413.3"/>
<use href="#mag" x="1421.5" y="1415.1"/>
<use href="#mag" x="1445.5" y="1416.7"/>
<use href="#mag" x="1469.5" y="1418.2"/>
<use href="#mag" x="1493.5" y="1419.6"/>
<use href="#mag" x="1517.5" y="1420.9"/>
<use href="#mag" x="1541.5" y="1422.1"/>
<use href="#mag" x="1565.5" y="1423.2"/>
<use href="#mag" x="1589.5" y="1424.3"/>
<use href="#mag" x="1613.5" y="1425.2"/>
<use href="#mag" x="1637.5" y="1426.1"/>
<use href="#mag" x="1661.5" y="1427"/>
<use href="#mag" x="1685.5" y="1427.7"/>
<use href="#mag" x="1709.5" y="1428.5"/>
<use href="#mag" x="1733.5" y="1429.1"/>
<use href="#mag" x="1757.5" y="1429.8"/>
<use href="#mag" x="1781.5" y="1430.3"/>
<use href="#mag" x="1805.5" y="1430.9"/>
<use href="#mag" x="1829.5" y="1431.4"/>
<use href="#mag" x="1853.5" y="1431.8"/>
<use href="#mag" x="1877.5" y="1432.2"/>
<use href="#mag" x="1901.5" y="1432.6"/>
<use href="#mag" x="1925.5" y="1433"/>
<use href="#mag" x="1949.5" y="1433.3"/>
<use href="#mag" x="1973.5" y="1433.6"/>
<use href="#mag" x="1997.5" y="1433.9"/>
<use href="#mag" x="2021.5" y="1434.2"/>
<use href="#mag" x="2045.5" y="1434.4"/>
<use href="#mag" x="2069.5" y="1434.6"/>
<use href="#mag" x="2093.5" y="1434.8"/>
<use href="#mag" x="2117.5" y="1435"/>
<use href="#mag" x="2141.5" y="1435.2"/>
<use href="#mag" x="2165.5" y="1435.3"/>
<use href="#mag" x="2189.5" y="1435.5"/>
<use href="#mag" x="2213.5" y="1435.6"/>
</g>
<rect x="1276.2" y="1327.2" width="973.4" height="149" fill="none" stroke="#808080" stroke-width="4"/>
<path d="M1724.5,1325.5V1296H1711.5L1733.5,1274.5L1756,1296H1743.5V1325.5" fill="#fff" stroke="#8a8a8a" stroke-width="1.6"/>
<path d="M317.5,60.7V1484.5H2256.5V60.7Z" fill="none" stroke="#000" stroke-width="4.4" stroke-linejoin="miter"/>
<path d="M317.5,1439.2H289M317.5,1209.5H289M317.5,979.7H289M317.5,750H289M317.5,520.2H289M317.5,290.5H289M317.5,60.7H289M317.5,1324.3H303M317.5,1094.6H303M317.5,864.8H303M317.5,635.1H303M317.5,405.3H303M317.5,175.6H303" stroke="#000" stroke-width="4.4" fill="none"/>
<path d="M317.5,1484.5V1515.5M462,1484.5V1500.5M546.5,1484.5V1500.5M606.5,1484.5V1500.5M653,1484.5V1500.5M691,1484.5V1500.5M723.1,1484.5V1500.5M751,1484.5V1500.5M775.5,1484.5V1500.5M797.5,1484.5V1515.5M942,1484.5V1500.5M1026.5,1484.5V1500.5M1086.5,1484.5V1500.5M1133,1484.5V1500.5M1171,1484.5V1500.5M1203.1,1484.5V1500.5M1231,1484.5V1500.5M1255.5,1484.5V1500.5M1277.5,1484.5V1515.5M1422,1484.5V1500.5M1506.5,1484.5V1500.5M1566.5,1484.5V1500.5M1613,1484.5V1500.5M1651,1484.5V1500.5M1683.1,1484.5V1500.5M1711,1484.5V1500.5M1735.5,1484.5V1500.5M1757.5,1484.5V1515.5M1902,1484.5V1500.5M1986.5,1484.5V1500.5M2046.5,1484.5V1500.5M2093,1484.5V1500.5M2131,1484.5V1500.5M2163.1,1484.5V1500.5M2191,1484.5V1500.5M2215.5,1484.5V1500.5M2237.5,1484.5V1515.5" stroke="#000" stroke-width="4.4" fill="none"/>
<text x="224.56" y="1462.00" font-family="'Liberation Sans', Arial, sans-serif" font-size="77" fill="#000">0</text>
<text x="139.09" y="1232.25" font-family="'Liberation Sans', Arial, sans-serif" font-size="77" fill="#000">100</text>
<text x="139.09" y="1002.50" font-family="'Liberation Sans', Arial, sans-serif" font-size="77" fill="#000">200</text>
<text x="139.09" y="772.75" font-family="'Liberation Sans', Arial, sans-serif" font-size="77" fill="#000">300</text>
<text x="139.09" y="543.00" font-family="'Liberation Sans', Arial, sans-serif" font-size="77" fill="#000">400</text>
<text x="139.09" y="313.25" font-family="'Liberation Sans', Arial, sans-serif" font-size="77" fill="#000">500</text>
<text x="139.09" y="83.50" font-family="'Liberation Sans', Arial, sans-serif" font-size="77" fill="#000">600</text>
<text transform="translate(263.46,1606.50) scale(1.0127,1)" font-family="'Liberation Sans', Arial, sans-serif" font-size="77" fill="#000">10</text>
<text transform="translate(346.45,1572.00) scale(1.0098,1)" font-family="'Liberation Sans', Arial, sans-serif" font-size="46.5" fill="#000">2</text>
<text transform="translate(743.46,1606.50) scale(1.0127,1)" font-family="'Liberation Sans', Arial, sans-serif" font-size="77" fill="#000">10</text>
<text transform="translate(826.96,1572.00) scale(0.9883,1)" font-family="'Liberation Sans', Arial, sans-serif" font-size="46.5" fill="#000">3</text>
<text transform="translate(1223.46,1606.50) scale(1.0127,1)" font-family="'Liberation Sans', Arial, sans-serif" font-size="77" fill="#000">10</text>
<text transform="translate(1307.95,1572.00) scale(0.9108,1)" font-family="'Liberation Sans', Arial, sans-serif" font-size="46.5" fill="#000">4</text>
<text transform="translate(1703.46,1606.50) scale(1.0127,1)" font-family="'Liberation Sans', Arial, sans-serif" font-size="77" fill="#000">10</text>
<text transform="translate(1786.96,1572.00) scale(0.9883,1)" font-family="'Liberation Sans', Arial, sans-serif" font-size="46.5" fill="#000">5</text>
<text transform="translate(2183.46,1606.50) scale(1.0127,1)" font-family="'Liberation Sans', Arial, sans-serif" font-size="77" fill="#000">10</text>
<text transform="translate(2266.45,1572.00) scale(1.0098,1)" font-family="'Liberation Sans', Arial, sans-serif" font-size="46.5" fill="#000">6</text>
<text transform="translate(1021.04,1736.00) scale(1.0072,1)" font-family="'Liberation Sans', Arial, sans-serif" font-size="76.5" fill="#000">Frequency (Hz)</text>
<text transform="translate(347.31,145.70) scale(1.0153,1)" font-family="'Liberation Sans', Arial, sans-serif" font-size="77" fill="#000">(b)</text>
<text transform="translate(446.93,473.60) scale(1.0065,1)" font-family="'Liberation Sans', Arial, sans-serif" font-size="77" fill="#000">200 K - 330</text>
<text transform="translate(18.57,855.51) scale(0.9732,0.7965)" font-family="'DejaVu Sans', 'Liberation Sans', sans-serif" font-weight="normal" font-size="100" fill="#000">ε</text>
<text transform="translate(66.00,859.43) scale(0.9072,1.1120)" font-family="'Liberation Sans', Arial, sans-serif" font-weight="bold" font-size="100" fill="#000">&quot;</text>
<path d="M358.6,1535L562.5,520" stroke="#333" stroke-width="3.0" fill="none"/>
<polygon points="565.8,504 543.5,535.5 577,542.5" fill="#000"/>
<g clip-path="url(#cBi)">
<use href="#blk" x="1022" y="972.7"/>
<use href="#blk" x="1050.8" y="972.9"/>
<use href="#blk" x="1079.7" y="973"/>
<use href="#blk" x="1108.6" y="973.2"/>
<use href="#blk" x="1137.4" y="973.3"/>
<use href="#blk" x="1166.2" y="973.5"/>
<use href="#blk" x="1195.1" y="973.6"/>
<use href="#blk" x="1223.9" y="973.7"/>
<use href="#blk" x="1252.8" y="973.9"/>
<use href="#blk" x="1281.7" y="974"/>
<use href="#blk" x="1310.5" y="974.1"/>
<use href="#blk" x="1339.3" y="974.3"/>
<use href="#blk" x="1368.2" y="974.4"/>
<use href="#blk" x="1397.1" y="974.5"/>
<use href="#blk" x="1425.9" y="974.6"/>
<use href="#blk" x="1454.8" y="974.7"/>
<use href="#blk" x="1483.6" y="974.8"/>
<use href="#blk" x="1512.4" y="974.9"/>
<use href="#blk" x="1541.3" y="975"/>
<use href="#blk" x="1570.2" y="975.1"/>
<use href="#blk" x="1599" y="975.1"/>
<use href="#blk" x="1627.8" y="975.2"/>
<use href="#blk" x="1656.7" y="975.3"/>
<use href="#blk" x="1685.6" y="975.3"/>
<use href="#blk" x="1714.4" y="975.4"/>
<use href="#blk" x="1743.2" y="975.4"/>
<use href="#blk" x="1772.1" y="975.5"/>
<use href="#blk" x="1800.9" y="975.6"/>
<use href="#blk" x="1829.8" y="975.6"/>
<use href="#blk" x="1858.7" y="975.7"/>
<use href="#blk" x="1887.5" y="975.7"/>
<use href="#blk" x="1916.3" y="975.8"/>
<use href="#blk" x="1945.2" y="975.8"/>
<use href="#blk" x="1974.1" y="975.8"/>
<use href="#blk" x="2002.9" y="975.9"/>
<use href="#blk" x="2031.8" y="975.9"/>
<use href="#blk" x="2060.6" y="976"/>
<use href="#blk" x="2089.4" y="976"/>
<use href="#blk" x="2118.3" y="976"/>
<use href="#blk" x="2147.2" y="976.1"/>
<use href="#blk" x="2176" y="976.1"/>
<use href="#blue" x="1022" y="966"/>
<use href="#blue" x="1050.8" y="966.4"/>
<use href="#blue" x="1079.7" y="966.8"/>
<use href="#blue" x="1108.6" y="967.2"/>
<use href="#blue" x="1137.4" y="967.6"/>
<use href="#blue" x="1166.2" y="968"/>
<use href="#blue" x="1195.1" y="968.4"/>
<use href="#blue" x="1223.9" y="968.8"/>
<use href="#blue" x="1252.8" y="969.2"/>
<use href="#blue" x="1281.7" y="969.5"/>
<use href="#blue" x="1310.5" y="969.9"/>
<use href="#blue" x="1339.3" y="970.2"/>
<use href="#blue" x="1368.2" y="970.5"/>
<use href="#blue" x="1397.1" y="970.8"/>
<use href="#blue" x="1425.9" y="971.1"/>
<use href="#blue" x="1454.8" y="971.3"/>
<use href="#blue" x="1483.6" y="971.6"/>
<use href="#blue" x="1512.4" y="971.8"/>
<use href="#blue" x="1541.3" y="971.9"/>
<use href="#blue" x="1570.2" y="972.1"/>
<use href="#blue" x="1599" y="972.2"/>
<use href="#blue" x="1627.8" y="972.4"/>
<use href="#blue" x="1656.7" y="972.5"/>
<use href="#blue" x="1685.6" y="972.6"/>
<use href="#blue" x="1714.4" y="972.7"/>
<use href="#blue" x="1743.2" y="972.8"/>
<use href="#blue" x="1772.1" y="972.9"/>
<use href="#blue" x="1800.9" y="973"/>
<use href="#blue" x="1829.8" y="973.1"/>
<use href="#blue" x="1858.7" y="973.2"/>
<use href="#blue" x="1887.5" y="973.2"/>
<use href="#blue" x="1916.3" y="973.3"/>
<use href="#blue" x="1945.2" y="973.4"/>
<use href="#blue" x="1974.1" y="973.4"/>
<use href="#blue" x="2002.9" y="973.5"/>
<use href="#blue" x="2031.8" y="973.5"/>
<use href="#blue" x="2060.6" y="973.6"/>
<use href="#blue" x="2089.4" y="973.6"/>
<use href="#blue" x="2118.3" y="973.6"/>
<use href="#blue" x="2147.2" y="973.7"/>
<use href="#blue" x="2176" y="973.7"/>
<use href="#dgrn" x="1022" y="956.8"/>
<use href="#dgrn" x="1050.8" y="957.5"/>
<use href="#dgrn" x="1079.7" y="958.1"/>
<use href="#dgrn" x="1108.6" y="958.8"/>
<use href="#dgrn" x="1137.4" y="959.4"/>
<use href="#dgrn" x="1166.2" y="960.1"/>
<use href="#dgrn" x="1195.1" y="960.7"/>
<use href="#dgrn" x="1223.9" y="961.3"/>
<use href="#dgrn" x="1252.8" y="961.9"/>
<use href="#dgrn" x="1281.7" y="962.5"/>
<use href="#dgrn" x="1310.5" y="963.1"/>
<use href="#dgrn" x="1339.3" y="963.6"/>
<use href="#dgrn" x="1368.2" y="964.1"/>
<use href="#dgrn" x="1397.1" y="964.5"/>
<use href="#dgrn" x="1425.9" y="965"/>
<use href="#dgrn" x="1454.8" y="965.4"/>
<use href="#dgrn" x="1483.6" y="965.8"/>
<use href="#dgrn" x="1512.4" y="966.1"/>
<use href="#dgrn" x="1541.3" y="966.4"/>
<use href="#dgrn" x="1570.2" y="966.7"/>
<use href="#dgrn" x="1599" y="966.9"/>
<use href="#dgrn" x="1627.8" y="967.2"/>
<use href="#dgrn" x="1656.7" y="967.4"/>
<use href="#dgrn" x="1685.6" y="967.6"/>
<use href="#dgrn" x="1714.4" y="967.8"/>
<use href="#dgrn" x="1743.2" y="968"/>
<use href="#dgrn" x="1772.1" y="968.2"/>
<use href="#dgrn" x="1800.9" y="968.3"/>
<use href="#dgrn" x="1829.8" y="968.5"/>
<use href="#dgrn" x="1858.7" y="968.7"/>
<use href="#dgrn" x="1887.5" y="968.8"/>
<use href="#dgrn" x="1916.3" y="969"/>
<use href="#dgrn" x="1945.2" y="969.1"/>
<use href="#dgrn" x="1974.1" y="969.2"/>
<use href="#dgrn" x="2002.9" y="969.3"/>
<use href="#dgrn" x="2031.8" y="969.4"/>
<use href="#dgrn" x="2060.6" y="969.5"/>
<use href="#dgrn" x="2089.4" y="969.6"/>
<use href="#dgrn" x="2118.3" y="969.7"/>
<use href="#dgrn" x="2147.2" y="969.8"/>
<use href="#dgrn" x="2176" y="969.8"/>
<use href="#pur" x="1022" y="949.6"/>
<use href="#pur" x="1050.8" y="950.4"/>
<use href="#pur" x="1079.7" y="951.2"/>
<use href="#pur" x="1108.6" y="951.9"/>
<use href="#pur" x="1137.4" y="952.6"/>
<use href="#pur" x="1166.2" y="953.3"/>
<use href="#pur" x="1195.1" y="954"/>
<use href="#pur" x="1223.9" y="954.6"/>
<use href="#pur" x="1252.8" y="955.3"/>
<use href="#pur" x="1281.7" y="955.8"/>
<use href="#pur" x="1310.5" y="956.4"/>
<use href="#pur" x="1339.3" y="956.9"/>
<use href="#pur" x="1368.2" y="957.4"/>
<use href="#pur" x="1397.1" y="957.9"/>
<use href="#pur" x="1425.9" y="958.4"/>
<use href="#pur" x="1454.8" y="958.8"/>
<use href="#pur" x="1483.6" y="959.2"/>
<use href="#pur" x="1512.4" y="959.6"/>
<use href="#pur" x="1541.3" y="960"/>
<use href="#pur" x="1570.2" y="960.3"/>
<use href="#pur" x="1599" y="960.7"/>
<use href="#pur" x="1627.8" y="961"/>
<use href="#pur" x="1656.7" y="961.3"/>
<use href="#pur" x="1685.6" y="961.6"/>
<use href="#pur" x="1714.4" y="961.8"/>
<use href="#pur" x="1743.2" y="962.1"/>
<use href="#pur" x="1772.1" y="962.4"/>
<use href="#pur" x="1800.9" y="962.6"/>
<use href="#pur" x="1829.8" y="962.9"/>
<use href="#pur" x="1858.7" y="963.1"/>
<use href="#pur" x="1887.5" y="963.3"/>
<use href="#pur" x="1916.3" y="963.5"/>
<use href="#pur" x="1945.2" y="963.7"/>
<use href="#pur" x="1974.1" y="963.9"/>
<use href="#pur" x="2002.9" y="964.1"/>
<use href="#pur" x="2031.8" y="964.3"/>
<use href="#pur" x="2060.6" y="964.4"/>
<use href="#pur" x="2089.4" y="964.6"/>
<use href="#pur" x="2118.3" y="964.7"/>
<use href="#pur" x="2147.2" y="964.9"/>
<use href="#pur" x="2176" y="965"/>
<use href="#dred" x="1022" y="939.5"/>
<use href="#dred" x="1050.8" y="940.5"/>
<use href="#dred" x="1079.7" y="941.4"/>
<use href="#dred" x="1108.6" y="942.3"/>
<use href="#dred" x="1137.4" y="943.2"/>
<use href="#dred" x="1166.2" y="944"/>
<use href="#dred" x="1195.1" y="944.7"/>
<use href="#dred" x="1223.9" y="945.4"/>
<use href="#dred" x="1252.8" y="946.1"/>
<use href="#dred" x="1281.7" y="946.8"/>
<use href="#dred" x="1310.5" y="947.4"/>
<use href="#dred" x="1339.3" y="948"/>
<use href="#dred" x="1368.2" y="948.5"/>
<use href="#dred" x="1397.1" y="949.1"/>
<use href="#dred" x="1425.9" y="949.6"/>
<use href="#dred" x="1454.8" y="950.1"/>
<use href="#dred" x="1483.6" y="950.6"/>
<use href="#dred" x="1512.4" y="951.1"/>
<use href="#dred" x="1541.3" y="951.6"/>
<use href="#dred" x="1570.2" y="952"/>
<use href="#dred" x="1599" y="952.5"/>
<use href="#dred" x="1627.8" y="952.9"/>
<use href="#dred" x="1656.7" y="953.3"/>
<use href="#dred" x="1685.6" y="953.8"/>
<use href="#dred" x="1714.4" y="954.2"/>
<use href="#dred" x="1743.2" y="954.6"/>
<use href="#dred" x="1772.1" y="954.9"/>
<use href="#dred" x="1800.9" y="955.3"/>
<use href="#dred" x="1829.8" y="955.7"/>
<use href="#dred" x="1858.7" y="956"/>
<use href="#dred" x="1887.5" y="956.4"/>
<use href="#dred" x="1916.3" y="956.7"/>
<use href="#dred" x="1945.2" y="957"/>
<use href="#dred" x="1974.1" y="957.3"/>
<use href="#dred" x="2002.9" y="957.6"/>
<use href="#dred" x="2031.8" y="957.9"/>
<use href="#dred" x="2060.6" y="958.2"/>
<use href="#dred" x="2089.4" y="958.5"/>
<use href="#dred" x="2118.3" y="958.7"/>
<use href="#dred" x="2147.2" y="959"/>
<use href="#dred" x="2176" y="959.2"/>
<use href="#sphs" x="1022" y="921.6"/>
<use href="#sphs" x="1050.8" y="923.4"/>
<use href="#sphs" x="1079.7" y="925"/>
<use href="#sphs" x="1108.6" y="926.4"/>
<use href="#sphs" x="1137.4" y="927.6"/>
<use href="#sphs" x="1166.2" y="928.8"/>
<use href="#sphs" x="1195.1" y="929.9"/>
<use href="#sphs" x="1223.9" y="930.9"/>
<use href="#sphs" x="1252.8" y="931.8"/>
<use href="#sphs" x="1281.7" y="932.8"/>
<use href="#sphs" x="1310.5" y="933.7"/>
<use href="#sphs" x="1339.3" y="934.5"/>
<use href="#sphs" x="1368.2" y="935.3"/>
<use href="#sphs" x="1397.1" y="936.1"/>
<use href="#sphs" x="1425.9" y="936.8"/>
<use href="#sphs" x="1454.8" y="937.5"/>
<use href="#sphs" x="1483.6" y="938.1"/>
<use href="#sphs" x="1512.4" y="938.8"/>
<use href="#sphs" x="1541.3" y="939.5"/>
<use href="#sphs" x="1570.2" y="940.2"/>
<use href="#sphs" x="1599" y="940.9"/>
<use href="#sphs" x="1627.8" y="941.7"/>
<use href="#sphs" x="1656.7" y="942.5"/>
<use href="#sphs" x="1685.6" y="943.3"/>
<use href="#sphs" x="1714.4" y="944.1"/>
<use href="#sphs" x="1743.2" y="944.9"/>
<use href="#sphs" x="1772.1" y="945.7"/>
<use href="#sphs" x="1800.9" y="946.5"/>
<use href="#sphs" x="1829.8" y="947.2"/>
<use href="#sphs" x="1858.7" y="947.9"/>
<use href="#sphs" x="1887.5" y="948.6"/>
<use href="#sphs" x="1916.3" y="949.3"/>
<use href="#sphs" x="1945.2" y="949.9"/>
<use href="#sphs" x="1974.1" y="950.5"/>
<use href="#sphs" x="2002.9" y="951.1"/>
<use href="#sphs" x="2031.8" y="951.7"/>
<use href="#sphs" x="2060.6" y="952.3"/>
<use href="#sphs" x="2089.4" y="952.8"/>
<use href="#sphs" x="2118.3" y="953.4"/>
<use href="#sphs" x="2147.2" y="953.9"/>
<use href="#sphs" x="2176" y="954.4"/>
<use href="#oras" x="1022" y="900.4"/>
<use href="#oras" x="1050.8" y="903.4"/>
<use href="#oras" x="1079.7" y="906.2"/>
<use href="#oras" x="1108.6" y="908.8"/>
<use href="#oras" x="1137.4" y="911.2"/>
<use href="#oras" x="1166.2" y="913.5"/>
<use href="#oras" x="1195.1" y="915.6"/>
<use href="#oras" x="1223.9" y="917.7"/>
<use href="#oras" x="1252.8" y="919.6"/>
<use href="#oras" x="1281.7" y="921.4"/>
<use href="#oras" x="1310.5" y="923.1"/>
<use href="#oras" x="1339.3" y="924.7"/>
<use href="#oras" x="1368.2" y="926.2"/>
<use href="#oras" x="1397.1" y="927.7"/>
<use href="#oras" x="1425.9" y="929"/>
<use href="#oras" x="1454.8" y="930.3"/>
<use href="#oras" x="1483.6" y="931.6"/>
<use href="#oras" x="1512.4" y="932.8"/>
<use href="#oras" x="1541.3" y="933.9"/>
<use href="#oras" x="1570.2" y="935"/>
<use href="#oras" x="1599" y="936.1"/>
<use href="#oras" x="1627.8" y="937.1"/>
<use href="#oras" x="1656.7" y="938.1"/>
<use href="#oras" x="1685.6" y="939.1"/>
<use href="#oras" x="1714.4" y="940"/>
<use href="#oras" x="1743.2" y="940.9"/>
<use href="#oras" x="1772.1" y="941.7"/>
<use href="#oras" x="1800.9" y="942.5"/>
<use href="#oras" x="1829.8" y="943.3"/>
<use href="#oras" x="1858.7" y="944"/>
<use href="#oras" x="1887.5" y="944.8"/>
<use href="#oras" x="1916.3" y="945.4"/>
<use href="#oras" x="1945.2" y="946.1"/>
<use href="#oras" x="1974.1" y="946.7"/>
<use href="#oras" x="2002.9" y="947.3"/>
<use href="#oras" x="2031.8" y="947.9"/>
<use href="#oras" x="2060.6" y="948.5"/>
<use href="#oras" x="2089.4" y="949"/>
<use href="#oras" x="2118.3" y="949.6"/>
<use href="#oras" x="2147.2" y="950.1"/>
<use href="#oras" x="2176" y="950.5"/>
<use href="#pinks" x="1022" y="860.4"/>
<use href="#pinks" x="1050.8" y="866.3"/>
<use href="#pinks" x="1079.7" y="871.8"/>
<use href="#pinks" x="1108.6" y="877"/>
<use href="#pinks" x="1137.4" y="881.9"/>
<use href="#pinks" x="1166.2" y="886.4"/>
<use href="#pinks" x="1195.1" y="890.7"/>
<use href="#pinks" x="1223.9" y="894.8"/>
<use href="#pinks" x="1252.8" y="898.6"/>
<use href="#pinks" x="1281.7" y="902.1"/>
<use href="#pinks" x="1310.5" y="905.2"/>
<use href="#pinks" x="1339.3" y="908.1"/>
<use href="#pinks" x="1368.2" y="910.7"/>
<use href="#pinks" x="1397.1" y="913"/>
<use href="#pinks" x="1425.9" y="915.3"/>
<use href="#pinks" x="1454.8" y="917.3"/>
<use href="#pinks" x="1483.6" y="919.1"/>
<use href="#pinks" x="1512.4" y="920.8"/>
<use href="#pinks" x="1541.3" y="922.3"/>
<use href="#pinks" x="1570.2" y="923.9"/>
<use href="#pinks" x="1599" y="925.5"/>
<use href="#pinks" x="1627.8" y="927.2"/>
<use href="#pinks" x="1656.7" y="928.9"/>
<use href="#pinks" x="1685.6" y="930.6"/>
<use href="#pinks" x="1714.4" y="932.2"/>
<use href="#pinks" x="1743.2" y="933.7"/>
<use href="#pinks" x="1772.1" y="935.1"/>
<use href="#pinks" x="1800.9" y="936.4"/>
<use href="#pinks" x="1829.8" y="937.6"/>
<use href="#pinks" x="1858.7" y="938.8"/>
<use href="#pinks" x="1887.5" y="939.9"/>
<use href="#pinks" x="1916.3" y="941"/>
<use href="#pinks" x="1945.2" y="942"/>
<use href="#pinks" x="1974.1" y="943"/>
<use href="#pinks" x="2002.9" y="943.9"/>
<use href="#pinks" x="2031.8" y="944.8"/>
<use href="#pinks" x="2060.6" y="945.6"/>
<use href="#pinks" x="2089.4" y="946.4"/>
<use href="#pinks" x="2118.3" y="947.2"/>
<use href="#pinks" x="2147.2" y="947.9"/>
<use href="#pinks" x="2176" y="948.6"/>
<use href="#inds" x="1022" y="802.1"/>
<use href="#inds" x="1050.8" y="810.9"/>
<use href="#inds" x="1079.7" y="820.1"/>
<use href="#inds" x="1108.6" y="829.1"/>
<use href="#inds" x="1137.4" y="837.7"/>
<use href="#inds" x="1166.2" y="845.5"/>
<use href="#inds" x="1195.1" y="852.5"/>
<use href="#inds" x="1223.9" y="859.1"/>
<use href="#inds" x="1252.8" y="865.3"/>
<use href="#inds" x="1281.7" y="871"/>
<use href="#inds" x="1310.5" y="876.3"/>
<use href="#inds" x="1339.3" y="881.3"/>
<use href="#inds" x="1368.2" y="886"/>
<use href="#inds" x="1397.1" y="890.3"/>
<use href="#inds" x="1425.9" y="894.3"/>
<use href="#inds" x="1454.8" y="898"/>
<use href="#inds" x="1483.6" y="901.3"/>
<use href="#inds" x="1512.4" y="904.4"/>
<use href="#inds" x="1541.3" y="907.2"/>
<use href="#inds" x="1570.2" y="909.9"/>
<use href="#inds" x="1599" y="912.5"/>
<use href="#inds" x="1627.8" y="915"/>
<use href="#inds" x="1656.7" y="917.4"/>
<use href="#inds" x="1685.6" y="919.8"/>
<use href="#inds" x="1714.4" y="922"/>
<use href="#inds" x="1743.2" y="924"/>
<use href="#inds" x="1772.1" y="926"/>
<use href="#inds" x="1800.9" y="927.9"/>
<use href="#inds" x="1829.8" y="929.6"/>
<use href="#inds" x="1858.7" y="931.2"/>
<use href="#inds" x="1887.5" y="932.7"/>
<use href="#inds" x="1916.3" y="934"/>
<use href="#inds" x="1945.2" y="935.3"/>
<use href="#inds" x="1974.1" y="936.4"/>
<use href="#inds" x="2002.9" y="937.5"/>
<use href="#inds" x="2031.8" y="938.5"/>
<use href="#inds" x="2060.6" y="939.5"/>
<use href="#inds" x="2089.4" y="940.4"/>
<use href="#inds" x="2118.3" y="941.2"/>
<use href="#inds" x="2147.2" y="942.1"/>
<use href="#inds" x="2176" y="942.8"/>
<use href="#grays" x="1022" y="710"/>
<use href="#grays" x="1050.8" y="727.2"/>
<use href="#grays" x="1079.7" y="742.4"/>
<use href="#grays" x="1108.6" y="756.1"/>
<use href="#grays" x="1137.4" y="768.8"/>
<use href="#grays" x="1166.2" y="780.9"/>
<use href="#grays" x="1195.1" y="792.3"/>
<use href="#grays" x="1223.9" y="803.1"/>
<use href="#grays" x="1252.8" y="813.1"/>
<use href="#grays" x="1281.7" y="822.4"/>
<use href="#grays" x="1310.5" y="831"/>
<use href="#grays" x="1339.3" y="839.1"/>
<use href="#grays" x="1368.2" y="846.6"/>
<use href="#grays" x="1397.1" y="853.7"/>
<use href="#grays" x="1425.9" y="860.2"/>
<use href="#grays" x="1454.8" y="866.2"/>
<use href="#grays" x="1483.6" y="871.8"/>
<use href="#grays" x="1512.4" y="877"/>
<use href="#grays" x="1541.3" y="881.8"/>
<use href="#grays" x="1570.2" y="886.2"/>
<use href="#grays" x="1599" y="890.3"/>
<use href="#grays" x="1627.8" y="894"/>
<use href="#grays" x="1656.7" y="897.3"/>
<use href="#grays" x="1685.6" y="900.5"/>
<use href="#grays" x="1714.4" y="903.4"/>
<use href="#grays" x="1743.2" y="906.2"/>
<use href="#grays" x="1772.1" y="908.9"/>
<use href="#grays" x="1800.9" y="911.5"/>
<use href="#grays" x="1829.8" y="913.9"/>
<use href="#grays" x="1858.7" y="916.2"/>
<use href="#grays" x="1887.5" y="918.2"/>
<use href="#grays" x="1916.3" y="920.1"/>
<use href="#grays" x="1945.2" y="921.9"/>
<use href="#grays" x="1974.1" y="923.5"/>
<use href="#grays" x="2002.9" y="925"/>
<use href="#grays" x="2031.8" y="926.4"/>
<use href="#grays" x="2060.6" y="927.8"/>
<use href="#grays" x="2089.4" y="929.1"/>
<use href="#grays" x="2118.3" y="930.4"/>
<use href="#grays" x="2147.2" y="931.6"/>
<use href="#grays" x="2176" y="932.7"/>
<use href="#gdias" x="1022" y="602.5"/>
<use href="#gdias" x="1050.8" y="626.4"/>
<use href="#gdias" x="1079.7" y="648.5"/>
<use href="#gdias" x="1108.6" y="669.2"/>
<use href="#gdias" x="1137.4" y="688.3"/>
<use href="#gdias" x="1166.2" y="706.2"/>
<use href="#gdias" x="1195.1" y="722.7"/>
<use href="#gdias" x="1223.9" y="738.1"/>
<use href="#gdias" x="1252.8" y="752.5"/>
<use href="#gdias" x="1281.7" y="765.9"/>
<use href="#gdias" x="1310.5" y="778.5"/>
<use href="#gdias" x="1339.3" y="790.3"/>
<use href="#gdias" x="1368.2" y="801.5"/>
<use href="#gdias" x="1397.1" y="811.8"/>
<use href="#gdias" x="1425.9" y="821.4"/>
<use href="#gdias" x="1454.8" y="830"/>
<use href="#gdias" x="1483.6" y="837.9"/>
<use href="#gdias" x="1512.4" y="845"/>
<use href="#gdias" x="1541.3" y="851.6"/>
<use href="#gdias" x="1570.2" y="857.8"/>
<use href="#gdias" x="1599" y="863.8"/>
<use href="#gdias" x="1627.8" y="869.5"/>
<use href="#gdias" x="1656.7" y="874.9"/>
<use href="#gdias" x="1685.6" y="880.1"/>
<use href="#gdias" x="1714.4" y="884.9"/>
<use href="#gdias" x="1743.2" y="889.3"/>
<use href="#gdias" x="1772.1" y="893.6"/>
<use href="#gdias" x="1800.9" y="897.7"/>
<use href="#gdias" x="1829.8" y="901.5"/>
<use href="#gdias" x="1858.7" y="904.8"/>
<use href="#gdias" x="1887.5" y="907.6"/>
<use href="#gdias" x="1916.3" y="910"/>
<use href="#gdias" x="1945.2" y="912.1"/>
<use href="#gdias" x="1974.1" y="914"/>
<use href="#gdias" x="2002.9" y="915.7"/>
<use href="#gdias" x="2031.8" y="917.3"/>
<use href="#gdias" x="2060.6" y="918.8"/>
<use href="#gdias" x="2089.4" y="920.1"/>
<use href="#gdias" x="2118.3" y="921.4"/>
<use href="#gdias" x="2147.2" y="922.5"/>
<use href="#gdias" x="2176" y="923.6"/>
<use href="#btris" x="1022" y="463.2"/>
<use href="#btris" x="1050.8" y="497"/>
<use href="#btris" x="1079.7" y="528.5"/>
<use href="#btris" x="1108.6" y="558"/>
<use href="#btris" x="1137.4" y="585.3"/>
<use href="#btris" x="1166.2" y="610.7"/>
<use href="#btris" x="1195.1" y="634.3"/>
<use href="#btris" x="1223.9" y="656.2"/>
<use href="#btris" x="1252.8" y="676.6"/>
<use href="#btris" x="1281.7" y="695.6"/>
<use href="#btris" x="1310.5" y="713.4"/>
<use href="#btris" x="1339.3" y="730.1"/>
<use href="#btris" x="1368.2" y="745.8"/>
<use href="#btris" x="1397.1" y="760.4"/>
<use href="#btris" x="1425.9" y="773.9"/>
<use href="#btris" x="1454.8" y="786.2"/>
<use href="#btris" x="1483.6" y="797.4"/>
<use href="#btris" x="1512.4" y="807.7"/>
<use href="#btris" x="1541.3" y="817.3"/>
<use href="#btris" x="1570.2" y="826.1"/>
<use href="#btris" x="1599" y="834.4"/>
<use href="#btris" x="1627.8" y="842.2"/>
<use href="#btris" x="1656.7" y="849.4"/>
<use href="#btris" x="1685.6" y="856.2"/>
<use href="#btris" x="1714.4" y="862.5"/>
<use href="#btris" x="1743.2" y="868.1"/>
<use href="#btris" x="1772.1" y="873.3"/>
<use href="#btris" x="1800.9" y="878.1"/>
<use href="#btris" x="1829.8" y="882.5"/>
<use href="#btris" x="1858.7" y="886.6"/>
<use href="#btris" x="1887.5" y="890.3"/>
<use href="#btris" x="1916.3" y="893.7"/>
<use href="#btris" x="1945.2" y="896.9"/>
<use href="#btris" x="1974.1" y="899.9"/>
<use href="#btris" x="2002.9" y="902.7"/>
<use href="#btris" x="2031.8" y="905.2"/>
<use href="#btris" x="2060.6" y="907.6"/>
<use href="#btris" x="2089.4" y="909.9"/>
<use href="#btris" x="2118.3" y="912"/>
<use href="#btris" x="2147.2" y="914"/>
<use href="#btris" x="2176" y="915.8"/>
<use href="#reds" x="1022" y="315.8"/>
<use href="#reds" x="1050.8" y="361.3"/>
<use href="#reds" x="1079.7" y="403.6"/>
<use href="#reds" x="1108.6" y="442.9"/>
<use href="#reds" x="1137.4" y="479.3"/>
<use href="#reds" x="1166.2" y="512.9"/>
<use href="#reds" x="1195.1" y="544"/>
<use href="#reds" x="1223.9" y="572.8"/>
<use href="#reds" x="1252.8" y="599.6"/>
<use href="#reds" x="1281.7" y="624.4"/>
<use href="#reds" x="1310.5" y="647.4"/>
<use href="#reds" x="1339.3" y="668.7"/>
<use href="#reds" x="1368.2" y="688.5"/>
<use href="#reds" x="1397.1" y="706.9"/>
<use href="#reds" x="1425.9" y="724"/>
<use href="#reds" x="1454.8" y="739.9"/>
<use href="#reds" x="1483.6" y="754.7"/>
<use href="#reds" x="1512.4" y="768.4"/>
<use href="#reds" x="1541.3" y="781.1"/>
<use href="#reds" x="1570.2" y="793"/>
<use href="#reds" x="1599" y="804"/>
<use href="#reds" x="1627.8" y="814.4"/>
<use href="#reds" x="1656.7" y="824"/>
<use href="#reds" x="1685.6" y="833"/>
<use href="#reds" x="1714.4" y="841.3"/>
<use href="#reds" x="1743.2" y="848.8"/>
<use href="#reds" x="1772.1" y="855.8"/>
<use href="#reds" x="1800.9" y="862.2"/>
<use href="#reds" x="1829.8" y="868.1"/>
<use href="#reds" x="1858.7" y="873.4"/>
<use href="#reds" x="1887.5" y="878.2"/>
<use href="#reds" x="1916.3" y="882.6"/>
<use href="#reds" x="1945.2" y="886.6"/>
<use href="#reds" x="1974.1" y="890.2"/>
<use href="#reds" x="2002.9" y="893.5"/>
<use href="#reds" x="2031.8" y="896.6"/>
<use href="#reds" x="2060.6" y="899.4"/>
<use href="#reds" x="2089.4" y="902"/>
<use href="#reds" x="2118.3" y="904.4"/>
<use href="#reds" x="2147.2" y="906.6"/>
<use href="#reds" x="2176" y="908.6"/>
<use href="#mags" x="1022" y="200.1"/>
<use href="#mags" x="1050.8" y="255.8"/>
<use href="#mags" x="1079.7" y="306.6"/>
<use href="#mags" x="1108.6" y="353.2"/>
<use href="#mags" x="1137.4" y="396.1"/>
<use href="#mags" x="1166.2" y="435.8"/>
<use href="#mags" x="1195.1" y="472.5"/>
<use href="#mags" x="1223.9" y="506.3"/>
<use href="#mags" x="1252.8" y="537.6"/>
<use href="#mags" x="1281.7" y="566.7"/>
<use href="#mags" x="1310.5" y="593.9"/>
<use href="#mags" x="1339.3" y="619.2"/>
<use href="#mags" x="1368.2" y="642.9"/>
<use href="#mags" x="1397.1" y="664.9"/>
<use href="#mags" x="1425.9" y="685.3"/>
<use href="#mags" x="1454.8" y="704.2"/>
<use href="#mags" x="1483.6" y="721.8"/>
<use href="#mags" x="1512.4" y="738.2"/>
<use href="#mags" x="1541.3" y="753.3"/>
<use href="#mags" x="1570.2" y="767.4"/>
<use href="#mags" x="1599" y="780.4"/>
<use href="#mags" x="1627.8" y="792.5"/>
<use href="#mags" x="1656.7" y="803.7"/>
<use href="#mags" x="1685.6" y="814.1"/>
<use href="#mags" x="1714.4" y="823.7"/>
<use href="#mags" x="1743.2" y="832.5"/>
<use href="#mags" x="1772.1" y="840.5"/>
<use href="#mags" x="1800.9" y="848"/>
<use href="#mags" x="1829.8" y="855"/>
<use href="#mags" x="1858.7" y="861.3"/>
<use href="#mags" x="1887.5" y="867.2"/>
<use href="#mags" x="1916.3" y="872.6"/>
<use href="#mags" x="1945.2" y="877.6"/>
<use href="#mags" x="1974.1" y="882.2"/>
<use href="#mags" x="2002.9" y="886.5"/>
<use href="#mags" x="2031.8" y="890.3"/>
<use href="#mags" x="2060.6" y="893.8"/>
<use href="#mags" x="2089.4" y="897"/>
<use href="#mags" x="2118.3" y="900"/>
<use href="#mags" x="2147.2" y="902.7"/>
</g>
<path d="M1022,111.7V978.5H2199.8V111.7Z" fill="none" stroke="#000" stroke-width="2.8" stroke-linejoin="miter"/>
<path d="M1022,978.5H1005M1022,785.7H1005M1022,592.9H1005M1022,400.1H1005M1022,207.3H1005M1022,882.1H1013M1022,689.3H1013M1022,496.5H1013M1022,303.7H1013" stroke="#000" stroke-width="2.8" fill="none"/>
<path d="M1022,978.5V995.5M1195.7,978.5V987.5M1297.3,978.5V987.5M1369.4,978.5V987.5M1425.3,978.5V987.5M1471,978.5V987.5M1509.6,978.5V987.5M1543.1,978.5V987.5M1572.6,978.5V987.5M1599,978.5V995.5M1772.7,978.5V987.5M1874.3,978.5V987.5M1946.4,978.5V987.5M2002.3,978.5V987.5M2048,978.5V987.5M2086.6,978.5V987.5M2120.1,978.5V987.5M2149.6,978.5V987.5M2176,978.5V995.5" stroke="#000" stroke-width="2.8" fill="none"/>
<text x="956.92" y="997.00" font-family="'Liberation Sans', Arial, sans-serif" font-size="64" fill="#000">0</text>
<text x="956.28" y="804.20" font-family="'Liberation Sans', Arial, sans-serif" font-size="64" fill="#000">4</text>
<text x="957.56" y="611.40" font-family="'Liberation Sans', Arial, sans-serif" font-size="64" fill="#000">8</text>
<text x="922.36" y="418.60" font-family="'Liberation Sans', Arial, sans-serif" font-size="64" fill="#000">12</text>
<text x="921.72" y="225.80" font-family="'Liberation Sans', Arial, sans-serif" font-size="64" fill="#000">16</text>
<text transform="translate(978.00,1068.00) scale(0.9882,1)" font-family="'Liberation Sans', Arial, sans-serif" font-size="64.5" fill="#000">10</text>
<text transform="translate(1047.79,1037.70) scale(0.8704,1)" font-family="'Liberation Sans', Arial, sans-serif" font-size="41" fill="#000">4</text>
<text transform="translate(1555.00,1068.00) scale(0.9882,1)" font-family="'Liberation Sans', Arial, sans-serif" font-size="64.5" fill="#000">10</text>
<text transform="translate(1623.95,1037.70) scale(0.9445,1)" font-family="'Liberation Sans', Arial, sans-serif" font-size="41" fill="#000">5</text>
<text transform="translate(2132.00,1068.00) scale(0.9882,1)" font-family="'Liberation Sans', Arial, sans-serif" font-size="64.5" fill="#000">10</text>
<text transform="translate(2200.52,1037.70) scale(0.9650,1)" font-family="'Liberation Sans', Arial, sans-serif" font-size="41" fill="#000">6</text>
<text transform="translate(1390.88,1145.30) scale(1.0238,1)" font-family="'Liberation Sans', Arial, sans-serif" font-size="62.5" fill="#000">Frequency (Hz)</text>
<text transform="translate(860.12,589.81) scale(0.7952,0.7963)" font-family="'DejaVu Serif', 'Liberation Serif', serif" font-weight="normal" font-size="100" fill="#000">ε</text>
<text transform="translate(898.38,591.18) scale(0.7565,0.9360)" font-family="'Liberation Sans', Arial, sans-serif" font-weight="bold" font-size="100" fill="#000">&quot;</text>
<g clip-path="url(#cC)">
<use href="#dK" x="317.5" y="2692.2"/>
<use href="#dK" x="341.5" y="2715"/>
<use href="#dK" x="365.5" y="2736.5"/>
<use href="#dK" x="389.5" y="2756.9"/>
<use href="#dK" x="413.5" y="2776.2"/>
<use href="#dK" x="437.5" y="2794.6"/>
<use href="#dK" x="461.5" y="2812.1"/>
<use href="#dK" x="485.5" y="2828.9"/>
<use href="#dK" x="509.5" y="2844.9"/>
<use href="#dK" x="533.5" y="2859.7"/>
<use href="#dK" x="557.5" y="2873.2"/>
<use href="#dK" x="581.5" y="2885.5"/>
<use href="#dK" x="605.5" y="2896.7"/>
<use href="#dK" x="629.5" y="2907.3"/>
<use href="#dK" x="653.5" y="2917.5"/>
<use href="#dK" x="677.5" y="2927.5"/>
<use href="#dK" x="701.5" y="2937.5"/>
<use href="#dK" x="725.5" y="2947.2"/>
<use href="#dK" x="749.5" y="2956.7"/>
<use href="#dK" x="773.5" y="2965.7"/>
<use href="#dK" x="797.5" y="2974.1"/>
<use href="#dK" x="821.5" y="2982"/>
<use href="#dK" x="845.5" y="2989.5"/>
<use href="#dK" x="869.5" y="2996.6"/>
<use href="#dK" x="893.5" y="3003.6"/>
<use href="#dK" x="917.5" y="3010.3"/>
<use href="#dK" x="941.5" y="3017.1"/>
<use href="#dK" x="965.5" y="3023.9"/>
<use href="#dK" x="989.5" y="3030.3"/>
<use href="#dK" x="1013.5" y="3036.3"/>
<use href="#dK" x="1037.5" y="3041.6"/>
<use href="#dK" x="1061.5" y="3046.3"/>
<use href="#dK" x="1085.5" y="3050.6"/>
<use href="#dK" x="1109.5" y="3054.5"/>
<use href="#dK" x="1133.5" y="3058.2"/>
<use href="#dK" x="1157.5" y="3061.8"/>
<use href="#dK" x="1181.5" y="3065.3"/>
<use href="#dK" x="1205.5" y="3068.7"/>
<use href="#dK" x="1229.5" y="3072"/>
<use href="#dK" x="1253.5" y="3075"/>
<use href="#dK" x="1277.5" y="3077.8"/>
<use href="#dK" x="1301.5" y="3080.5"/>
<use href="#dK" x="1325.5" y="3082.9"/>
<use href="#dK" x="1349.5" y="3085.3"/>
<use href="#dK" x="1373.5" y="3087.5"/>
<use href="#dK" x="1397.5" y="3089.7"/>
<use href="#dK" x="1421.5" y="3091.8"/>
<use href="#dK" x="1445.5" y="3093.8"/>
<use href="#dK" x="1469.5" y="3095.8"/>
<use href="#dK" x="1493.5" y="3097.6"/>
<use href="#dK" x="1517.5" y="3099.4"/>
<use href="#dK" x="1541.5" y="3101.1"/>
<use href="#dK" x="1565.5" y="3102.7"/>
<use href="#dK" x="1589.5" y="3104.2"/>
<use href="#dK" x="1613.5" y="3105.7"/>
<use href="#dK" x="1637.5" y="3107.1"/>
<use href="#dK" x="1661.5" y="3108.4"/>
<use href="#dK" x="1685.5" y="3109.7"/>
<use href="#dK" x="1709.5" y="3111"/>
<use href="#dK" x="1733.5" y="3112.2"/>
<use href="#dK" x="1757.5" y="3113.3"/>
<use href="#dK" x="1781.5" y="3114.4"/>
<use href="#dK" x="1805.5" y="3115.4"/>
<use href="#dK" x="1829.5" y="3116.4"/>
<use href="#dK" x="1853.5" y="3117.3"/>
<use href="#dK" x="1877.5" y="3118.2"/>
<use href="#dK" x="1901.5" y="3119"/>
<use href="#dK" x="1925.5" y="3119.7"/>
<use href="#dK" x="1949.5" y="3120.3"/>
<use href="#dK" x="1973.5" y="3121"/>
<use href="#dK" x="1997.5" y="3121.7"/>
<use href="#dK" x="2021.5" y="3122.4"/>
<use href="#dK" x="2045.5" y="3123.1"/>
<use href="#dK" x="2069.5" y="3123.8"/>
<use href="#dK" x="2093.5" y="3124.5"/>
<use href="#dK" x="2117.5" y="3125.2"/>
<use href="#dK" x="2141.5" y="3125.8"/>
<use href="#dK" x="2165.5" y="3126.4"/>
<use href="#dK" x="2189.5" y="3126.9"/>
<use href="#dK" x="2213.5" y="3127.4"/>
<use href="#dK" x="2237.5" y="3127.9"/>
<use href="#dR" x="317.5" y="1985.8"/>
<use href="#dR" x="341.5" y="2105.8"/>
<use href="#dR" x="365.5" y="2214.1"/>
<use href="#dR" x="389.5" y="2311.9"/>
<use href="#dR" x="413.5" y="2400.2"/>
<use href="#dR" x="437.5" y="2480"/>
<use href="#dR" x="461.5" y="2552.2"/>
<use href="#dR" x="485.5" y="2617.7"/>
<use href="#dR" x="509.5" y="2677"/>
<use href="#dR" x="533.5" y="2730.7"/>
<use href="#dR" x="557.5" y="2779.2"/>
<use href="#dR" x="581.5" y="2823.2"/>
<use href="#dR" x="605.5" y="2863"/>
<use href="#dR" x="629.5" y="2899.2"/>
<use href="#dR" x="653.5" y="2932.1"/>
<use href="#dR" x="677.5" y="2962.3"/>
<use href="#dR" x="701.5" y="2989.9"/>
<use href="#dR" x="725.5" y="3015.1"/>
<use href="#dR" x="749.5" y="3038.1"/>
<use href="#dR" x="773.5" y="3059.2"/>
<use href="#dR" x="797.5" y="3078.5"/>
<use href="#dR" x="821.5" y="3096.3"/>
<use href="#dR" x="845.5" y="3112.6"/>
<use href="#dR" x="869.5" y="3127.6"/>
<use href="#dR" x="893.5" y="3141.2"/>
<use href="#dR" x="917.5" y="3153.7"/>
<use href="#dR" x="941.5" y="3165"/>
<use href="#dR" x="965.5" y="3175.4"/>
<use href="#dR" x="989.5" y="3184.9"/>
<use href="#dR" x="1013.5" y="3193.6"/>
<use href="#dR" x="1037.5" y="3201.7"/>
<use href="#dR" x="1061.5" y="3209.2"/>
<use href="#dR" x="1085.5" y="3216.1"/>
<use href="#dR" x="1109.5" y="3222.4"/>
<use href="#dR" x="1133.5" y="3228.3"/>
<use href="#dR" x="1157.5" y="3233.7"/>
<use href="#dR" x="1181.5" y="3238.7"/>
<use href="#dR" x="1205.5" y="3243.4"/>
<use href="#dR" x="1229.5" y="3247.6"/>
<use href="#dR" x="1253.5" y="3251.6"/>
<use href="#dR" x="1277.5" y="3255.3"/>
<use href="#dR" x="1301.5" y="3258.8"/>
<use href="#dR" x="1325.5" y="3262"/>
<use href="#dR" x="1349.5" y="3264.9"/>
<use href="#dR" x="1373.5" y="3267.7"/>
<use href="#dR" x="1397.5" y="3270.3"/>
<use href="#dR" x="1421.5" y="3272.7"/>
<use href="#dR" x="1445.5" y="3274.9"/>
<use href="#dR" x="1469.5" y="3277"/>
<use href="#dR" x="1493.5" y="3278.9"/>
<use href="#dR" x="1517.5" y="3280.7"/>
<use href="#dR" x="1541.5" y="3282.4"/>
<use href="#dR" x="1565.5" y="3284"/>
<use href="#dR" x="1589.5" y="3285.5"/>
<use href="#dR" x="1613.5" y="3286.9"/>
<use href="#dR" x="1637.5" y="3288.2"/>
<use href="#dR" x="1661.5" y="3289.3"/>
<use href="#dR" x="1685.5" y="3290.3"/>
<use href="#dR" x="1709.5" y="3291.3"/>
<use href="#dR" x="1733.5" y="3292.2"/>
<use href="#dR" x="1757.5" y="3293"/>
<use href="#dR" x="1781.5" y="3293.9"/>
<use href="#dR" x="1805.5" y="3294.6"/>
<use href="#dR" x="1829.5" y="3295.4"/>
<use href="#dR" x="1853.5" y="3296.1"/>
<use href="#dR" x="1877.5" y="3296.7"/>
<use href="#dR" x="1901.5" y="3297.3"/>
<use href="#dR" x="1925.5" y="3297.9"/>
<use href="#dR" x="1949.5" y="3298.5"/>
<use href="#dR" x="1973.5" y="3299"/>
<use href="#dR" x="1997.5" y="3299.4"/>
<use href="#dR" x="2021.5" y="3299.7"/>
<use href="#dR" x="2045.5" y="3300"/>
<use href="#dR" x="2069.5" y="3300.3"/>
<use href="#dR" x="2093.5" y="3300.5"/>
<use href="#dR" x="2117.5" y="3300.8"/>
<use href="#dR" x="2141.5" y="3301"/>
<use href="#dR" x="2165.5" y="3301.2"/>
<use href="#dR" x="2189.5" y="3301.4"/>
<use href="#dR" x="2213.5" y="3301.5"/>
<use href="#dR" x="2237.5" y="3301.7"/>
</g>
<path d="M317.5,1917.4V3343.1H2256.8V1917.4Z" fill="none" stroke="#000" stroke-width="4.4" stroke-linejoin="miter"/>
<path d="M317.5,3309.6H289M317.5,3135.6H289M317.5,2961.6H289M317.5,2787.6H289M317.5,2613.6H289M317.5,2439.6H289M317.5,2265.6H289M317.5,2091.6H289M317.5,1917.6H289M317.5,3222.6H303M317.5,3048.6H303M317.5,2874.6H303M317.5,2700.6H303M317.5,2526.6H303M317.5,2352.6H303M317.5,2178.6H303M317.5,2004.6H303" stroke="#000" stroke-width="4.4" fill="none"/>
<path d="M317.5,3343.1V3374.1M462,3343.1V3359.1M546.5,3343.1V3359.1M606.5,3343.1V3359.1M653,3343.1V3359.1M691,3343.1V3359.1M723.1,3343.1V3359.1M751,3343.1V3359.1M775.5,3343.1V3359.1M797.5,3343.1V3374.1M942,3343.1V3359.1M1026.5,3343.1V3359.1M1086.5,3343.1V3359.1M1133,3343.1V3359.1M1171,3343.1V3359.1M1203.1,3343.1V3359.1M1231,3343.1V3359.1M1255.5,3343.1V3359.1M1277.5,3343.1V3374.1M1422,3343.1V3359.1M1506.5,3343.1V3359.1M1566.5,3343.1V3359.1M1613,3343.1V3359.1M1651,3343.1V3359.1M1683.1,3343.1V3359.1M1711,3343.1V3359.1M1735.5,3343.1V3359.1M1757.5,3343.1V3374.1M1902,3343.1V3359.1M1986.5,3343.1V3359.1M2046.5,3343.1V3359.1M2093,3343.1V3359.1M2131,3343.1V3359.1M2163.1,3343.1V3359.1M2191,3343.1V3359.1M2215.5,3343.1V3359.1M2237.5,3343.1V3374.1" stroke="#000" stroke-width="4.4" fill="none"/>
<text x="224.56" y="3332.90" font-family="'Liberation Sans', Arial, sans-serif" font-size="77" fill="#000">0</text>
<text x="182.21" y="3158.90" font-family="'Liberation Sans', Arial, sans-serif" font-size="77" fill="#000">25</text>
<text x="182.21" y="2984.90" font-family="'Liberation Sans', Arial, sans-serif" font-size="77" fill="#000">50</text>
<text x="182.21" y="2810.90" font-family="'Liberation Sans', Arial, sans-serif" font-size="77" fill="#000">75</text>
<text x="139.09" y="2636.90" font-family="'Liberation Sans', Arial, sans-serif" font-size="77" fill="#000">100</text>
<text x="139.09" y="2462.90" font-family="'Liberation Sans', Arial, sans-serif" font-size="77" fill="#000">125</text>
<text x="139.09" y="2288.90" font-family="'Liberation Sans', Arial, sans-serif" font-size="77" fill="#000">150</text>
<text x="139.09" y="2114.90" font-family="'Liberation Sans', Arial, sans-serif" font-size="77" fill="#000">175</text>
<text x="139.09" y="1940.90" font-family="'Liberation Sans', Arial, sans-serif" font-size="77" fill="#000">200</text>
<text transform="translate(263.46,3466.00) scale(1.0127,1)" font-family="'Liberation Sans', Arial, sans-serif" font-size="77" fill="#000">10</text>
<text transform="translate(346.45,3431.50) scale(1.0098,1)" font-family="'Liberation Sans', Arial, sans-serif" font-size="46.5" fill="#000">2</text>
<text transform="translate(743.46,3466.00) scale(1.0127,1)" font-family="'Liberation Sans', Arial, sans-serif" font-size="77" fill="#000">10</text>
<text transform="translate(826.96,3431.50) scale(0.9883,1)" font-family="'Liberation Sans', Arial, sans-serif" font-size="46.5" fill="#000">3</text>
<text transform="translate(1223.46,3466.00) scale(1.0127,1)" font-family="'Liberation Sans', Arial, sans-serif" font-size="77" fill="#000">10</text>
<text transform="translate(1307.95,3431.50) scale(0.9108,1)" font-family="'Liberation Sans', Arial, sans-serif" font-size="46.5" fill="#000">4</text>
<text transform="translate(1703.46,3466.00) scale(1.0127,1)" font-family="'Liberation Sans', Arial, sans-serif" font-size="77" fill="#000">10</text>
<text transform="translate(1786.96,3431.50) scale(0.9883,1)" font-family="'Liberation Sans', Arial, sans-serif" font-size="46.5" fill="#000">5</text>
<text transform="translate(2183.46,3466.00) scale(1.0127,1)" font-family="'Liberation Sans', Arial, sans-serif" font-size="77" fill="#000">10</text>
<text transform="translate(2266.45,3431.50) scale(1.0098,1)" font-family="'Liberation Sans', Arial, sans-serif" font-size="46.5" fill="#000">6</text>
<text transform="translate(1021.04,3596.00) scale(1.0072,1)" font-family="'Liberation Sans', Arial, sans-serif" font-size="76.5" fill="#000">Frequency (Hz)</text>
<text transform="translate(346.00,2004.00) scale(1.0602,1)" font-family="'Liberation Sans', Arial, sans-serif" font-size="77" fill="#000">(c)</text>
<rect x="491" y="1960.5" width="402" height="120" fill="#000"/>
<rect x="470.6" y="1940.3" width="404.3" height="120.9" fill="#fff" stroke="#000" stroke-width="2"/>
<text transform="translate(505.06,2023.80) scale(0.9986,1)" font-family="'Liberation Sans', Arial, sans-serif" font-size="77" fill="#000">T = 300 K</text>
<use href="#dK" x="641.5" y="2149.5"/>
<use href="#dR" x="641.5" y="2242.8"/>
<text transform="translate(735.91,2170.79) scale(0.6571,0.6037)" font-family="'DejaVu Serif', 'Liberation Serif', serif" font-weight="normal" font-size="100" fill="#000">ε</text>
<text transform="translate(766.10,2171.31) scale(0.7462,0.7320)" font-family="'Liberation Sans', Arial, sans-serif" font-weight="bold" font-size="100" fill="#000">'</text>
<text transform="translate(735.91,2263.69) scale(0.6571,0.6037)" font-family="'DejaVu Serif', 'Liberation Serif', serif" font-weight="normal" font-size="100" fill="#000">ε</text>
<text transform="translate(765.72,2264.21) scale(0.6899,0.7320)" font-family="'Liberation Sans', Arial, sans-serif" font-weight="bold" font-size="100" fill="#000">&quot;</text>
<text transform="translate(101,3122.6) rotate(-90)" font-family="'Liberation Sans', Arial, sans-serif" font-size="77.5" fill="#000" textLength="729.7" lengthAdjust="spacing">Dielectric properties (</text>
<text transform="translate(100.00,2393.47) rotate(-90) scale(0.6548,0.6477)" font-family="'DejaVu Serif', 'Liberation Serif', serif" font-weight="normal" font-size="100" fill="#000">ε</text>
<text transform="translate(101.51,2361.51) rotate(-90) scale(0.6923,0.8320)" font-family="'Liberation Sans', Arial, sans-serif" font-weight="bold" font-size="100" fill="#000">'</text>
<text transform="translate(101,2346.4) rotate(-90)" font-family="'Liberation Sans', Arial, sans-serif" font-size="77.5" fill="#000">,</text>
<text transform="translate(100.00,2302.56) rotate(-90) scale(0.6524,0.6477)" font-family="'DejaVu Serif', 'Liberation Serif', serif" font-weight="normal" font-size="100" fill="#000">ε</text>
<text transform="translate(101.51,2271.85) rotate(-90) scale(0.6841,0.8320)" font-family="'Liberation Sans', Arial, sans-serif" font-weight="bold" font-size="100" fill="#000">&quot;</text>
<text transform="translate(101,2237) rotate(-90)" font-family="'Liberation Sans', Arial, sans-serif" font-size="77.5" fill="#000">)</text>
<path d="M1094.3,1970.5V2783.5H2200.3V1970.5Z" fill="none" stroke="#111" stroke-width="3" stroke-linejoin="miter"/>
<path d="M1094.3,2783.5H1077.3M1094.3,2621.2H1077.3M1094.3,2458.9H1077.3M1094.3,2296.6H1077.3M1094.3,2134.3H1077.3M1094.3,1972H1077.3M1094.3,2702.3H1086.3M1094.3,2540.1H1086.3M1094.3,2377.8H1086.3M1094.3,2215.4H1086.3M1094.3,2053.2H1086.3" stroke="#222" stroke-width="3" fill="none"/>
<path d="M1094.3,2783.5V2800.5M1176.7,2783.5V2791.5M1224.8,2783.5V2791.5M1259,2783.5V2791.5M1285.5,2783.5V2791.5M1307.2,2783.5V2791.5M1325.5,2783.5V2791.5M1341.4,2783.5V2791.5M1355.4,2783.5V2791.5M1367.9,2783.5V2800.5M1450.3,2783.5V2791.5M1498.4,2783.5V2791.5M1532.6,2783.5V2791.5M1559.1,2783.5V2791.5M1580.8,2783.5V2791.5M1599.1,2783.5V2791.5M1615,2783.5V2791.5M1629,2783.5V2791.5M1641.5,2783.5V2800.5M1723.9,2783.5V2791.5M1772,2783.5V2791.5M1806.2,2783.5V2791.5M1832.7,2783.5V2791.5M1854.4,2783.5V2791.5M1872.7,2783.5V2791.5M1888.6,2783.5V2791.5M1902.6,2783.5V2791.5M1915.1,2783.5V2800.5M1997.5,2783.5V2791.5M2045.6,2783.5V2791.5M2079.8,2783.5V2791.5M2106.3,2783.5V2791.5M2128,2783.5V2791.5M2146.3,2783.5V2791.5M2162.2,2783.5V2791.5M2176.2,2783.5V2791.5M2188.7,2783.5V2800.5" stroke="#222" stroke-width="3" fill="none"/>
<path d="M1101.2,2456.5H2198.3" stroke="#808080" stroke-width="4.6" stroke-dasharray="19.6,16.05" fill="none"/>
<g clip-path="url(#cCi)">
<use href="#dB" x="1094.3" y="2087.5"/>
<use href="#dB" x="1108" y="2126.4"/>
<use href="#dB" x="1121.7" y="2163"/>
<use href="#dB" x="1135.3" y="2197.5"/>
<use href="#dB" x="1149" y="2230"/>
<use href="#dB" x="1162.7" y="2260.6"/>
<use href="#dB" x="1176.4" y="2289.3"/>
<use href="#dB" x="1190.1" y="2316.2"/>
<use href="#dB" x="1203.7" y="2341.7"/>
<use href="#dB" x="1217.4" y="2365.9"/>
<use href="#dB" x="1231.1" y="2389"/>
<use href="#dB" x="1244.8" y="2411.2"/>
<use href="#dB" x="1258.5" y="2432.4"/>
<use href="#dB" x="1272.1" y="2452.3"/>
<use href="#dB" x="1285.8" y="2471.1"/>
<use href="#dB" x="1299.5" y="2488.5"/>
<use href="#dB" x="1313.2" y="2504.6"/>
<use href="#dB" x="1326.9" y="2519.6"/>
<use href="#dB" x="1340.5" y="2533.8"/>
<use href="#dB" x="1354.2" y="2547.2"/>
<use href="#dB" x="1367.9" y="2559.9"/>
<use href="#dB" x="1381.6" y="2572.1"/>
<use href="#dB" x="1395.3" y="2583.8"/>
<use href="#dB" x="1408.9" y="2594.7"/>
<use href="#dB" x="1422.6" y="2604.9"/>
<use href="#dB" x="1436.3" y="2614.4"/>
<use href="#dB" x="1450" y="2623.1"/>
<use href="#dB" x="1463.7" y="2631"/>
<use href="#dB" x="1477.3" y="2638.6"/>
<use href="#dB" x="1491" y="2645.8"/>
<use href="#dB" x="1504.7" y="2652.8"/>
<use href="#dB" x="1518.4" y="2659.7"/>
<use href="#dB" x="1532.1" y="2666.3"/>
<use href="#dB" x="1545.7" y="2672.6"/>
<use href="#dB" x="1559.4" y="2678.5"/>
<use href="#dB" x="1573.1" y="2684.1"/>
<use href="#dB" x="1586.8" y="2689.3"/>
<use href="#dB" x="1600.5" y="2694.2"/>
<use href="#dB" x="1614.1" y="2698.9"/>
<use href="#dB" x="1627.8" y="2703.3"/>
<use href="#dB" x="1641.5" y="2707.5"/>
<use href="#dB" x="1655.2" y="2711.5"/>
<use href="#dB" x="1668.9" y="2715.3"/>
<use href="#dB" x="1682.5" y="2718.9"/>
<use href="#dB" x="1696.2" y="2722.3"/>
<use href="#dB" x="1709.9" y="2725.5"/>
<use href="#dB" x="1723.6" y="2728.5"/>
<use href="#dB" x="1737.3" y="2731.3"/>
<use href="#dB" x="1750.9" y="2734"/>
<use href="#dB" x="1764.6" y="2736.5"/>
<use href="#dB" x="1778.3" y="2738.9"/>
<use href="#dB" x="1792" y="2741.2"/>
<use href="#dB" x="1805.7" y="2743.4"/>
<use href="#dB" x="1819.3" y="2745.5"/>
<use href="#dB" x="1833" y="2747.4"/>
<use href="#dB" x="1846.7" y="2749.1"/>
<use href="#dB" x="1860.4" y="2750.7"/>
<use href="#dB" x="1874.1" y="2752.2"/>
<use href="#dB" x="1887.7" y="2753.6"/>
<use href="#dB" x="1901.4" y="2754.8"/>
<use href="#dB" x="1915.1" y="2756.1"/>
<use href="#dB" x="1928.8" y="2757.3"/>
<use href="#dB" x="1942.5" y="2758.5"/>
<use href="#dB" x="1956.1" y="2759.6"/>
<use href="#dB" x="1969.8" y="2760.7"/>
<use href="#dB" x="1983.5" y="2761.7"/>
<use href="#dB" x="1997.2" y="2762.6"/>
<use href="#dB" x="2010.9" y="2763.6"/>
<use href="#dB" x="2024.5" y="2764.4"/>
<use href="#dB" x="2038.2" y="2765.2"/>
<use href="#dB" x="2051.9" y="2765.8"/>
<use href="#dB" x="2065.6" y="2766.4"/>
<use href="#dB" x="2079.3" y="2766.8"/>
<use href="#dB" x="2092.9" y="2767.2"/>
<use href="#dB" x="2106.6" y="2767.6"/>
<use href="#dB" x="2120.3" y="2767.9"/>
<use href="#dB" x="2134" y="2768.3"/>
<use href="#dB" x="2147.7" y="2768.6"/>
<use href="#dB" x="2161.3" y="2768.8"/>
<use href="#dB" x="2175" y="2769.1"/>
<use href="#dB" x="2188.7" y="2769.3"/>
</g>
<text x="982.25" y="2801.00" font-family="'Liberation Sans', Arial, sans-serif" font-size="61" fill="#000">0.0</text>
<text x="982.25" y="2638.70" font-family="'Liberation Sans', Arial, sans-serif" font-size="61" fill="#000">0.5</text>
<text x="982.25" y="2476.40" font-family="'Liberation Sans', Arial, sans-serif" font-size="61" fill="#000">1.0</text>
<text x="982.25" y="2314.10" font-family="'Liberation Sans', Arial, sans-serif" font-size="61" fill="#000">1.5</text>
<text x="982.25" y="2151.80" font-family="'Liberation Sans', Arial, sans-serif" font-size="61" fill="#000">2.0</text>
<text x="982.25" y="1989.50" font-family="'Liberation Sans', Arial, sans-serif" font-size="61" fill="#000">2.5</text>
<text transform="translate(1053.58,2868.10) scale(0.9472,1)" font-family="'Liberation Sans', Arial, sans-serif" font-size="61" fill="#000">10</text>
<text transform="translate(1117.01,2840.00) scale(0.9946,1)" font-family="'Liberation Sans', Arial, sans-serif" font-size="40" fill="#000">2</text>
<text transform="translate(1327.18,2868.10) scale(0.9472,1)" font-family="'Liberation Sans', Arial, sans-serif" font-size="61" fill="#000">10</text>
<text transform="translate(1391.04,2840.00) scale(0.9734,1)" font-family="'Liberation Sans', Arial, sans-serif" font-size="40" fill="#000">3</text>
<text transform="translate(1600.78,2868.10) scale(0.9472,1)" font-family="'Liberation Sans', Arial, sans-serif" font-size="61" fill="#000">10</text>
<text transform="translate(1665.48,2840.00) scale(0.8971,1)" font-family="'Liberation Sans', Arial, sans-serif" font-size="40" fill="#000">4</text>
<text transform="translate(1874.38,2868.10) scale(0.9472,1)" font-family="'Liberation Sans', Arial, sans-serif" font-size="61" fill="#000">10</text>
<text transform="translate(1938.24,2840.00) scale(0.9734,1)" font-family="'Liberation Sans', Arial, sans-serif" font-size="40" fill="#000">5</text>
<text transform="translate(2147.98,2868.10) scale(0.9472,1)" font-family="'Liberation Sans', Arial, sans-serif" font-size="61" fill="#000">10</text>
<text transform="translate(2211.41,2840.00) scale(0.9946,1)" font-family="'Liberation Sans', Arial, sans-serif" font-size="40" fill="#000">6</text>
<text transform="translate(1446.11,2939.60) scale(0.9975,1)" font-family="'Liberation Sans', Arial, sans-serif" font-size="60" fill="#000">Frequency (Hz)</text>
<use href="#dB" x="1958.7" y="2067"/>
<text transform="translate(2018.93,2082.30) scale(0.9802,1)" font-family="'Liberation Sans', Arial, sans-serif" font-size="59.5" fill="#000">tan</text>
<text transform="translate(2116.74,2082.41) scale(0.6658,0.5901)" font-family="'Liberation Serif', 'DejaVu Serif', serif" font-weight="normal" font-size="100" fill="#000">δ</text>
<text transform="translate(956.7,2469) rotate(-90)" font-family="'Liberation Sans', Arial, sans-serif" font-size="59" fill="#000">tan</text>
<text transform="translate(956.59,2369.82) rotate(-90) scale(0.5797,0.6085)" font-family="'Liberation Serif', 'DejaVu Serif', serif" font-weight="normal" font-size="100" fill="#000">δ</text>
</svg></body></html>
